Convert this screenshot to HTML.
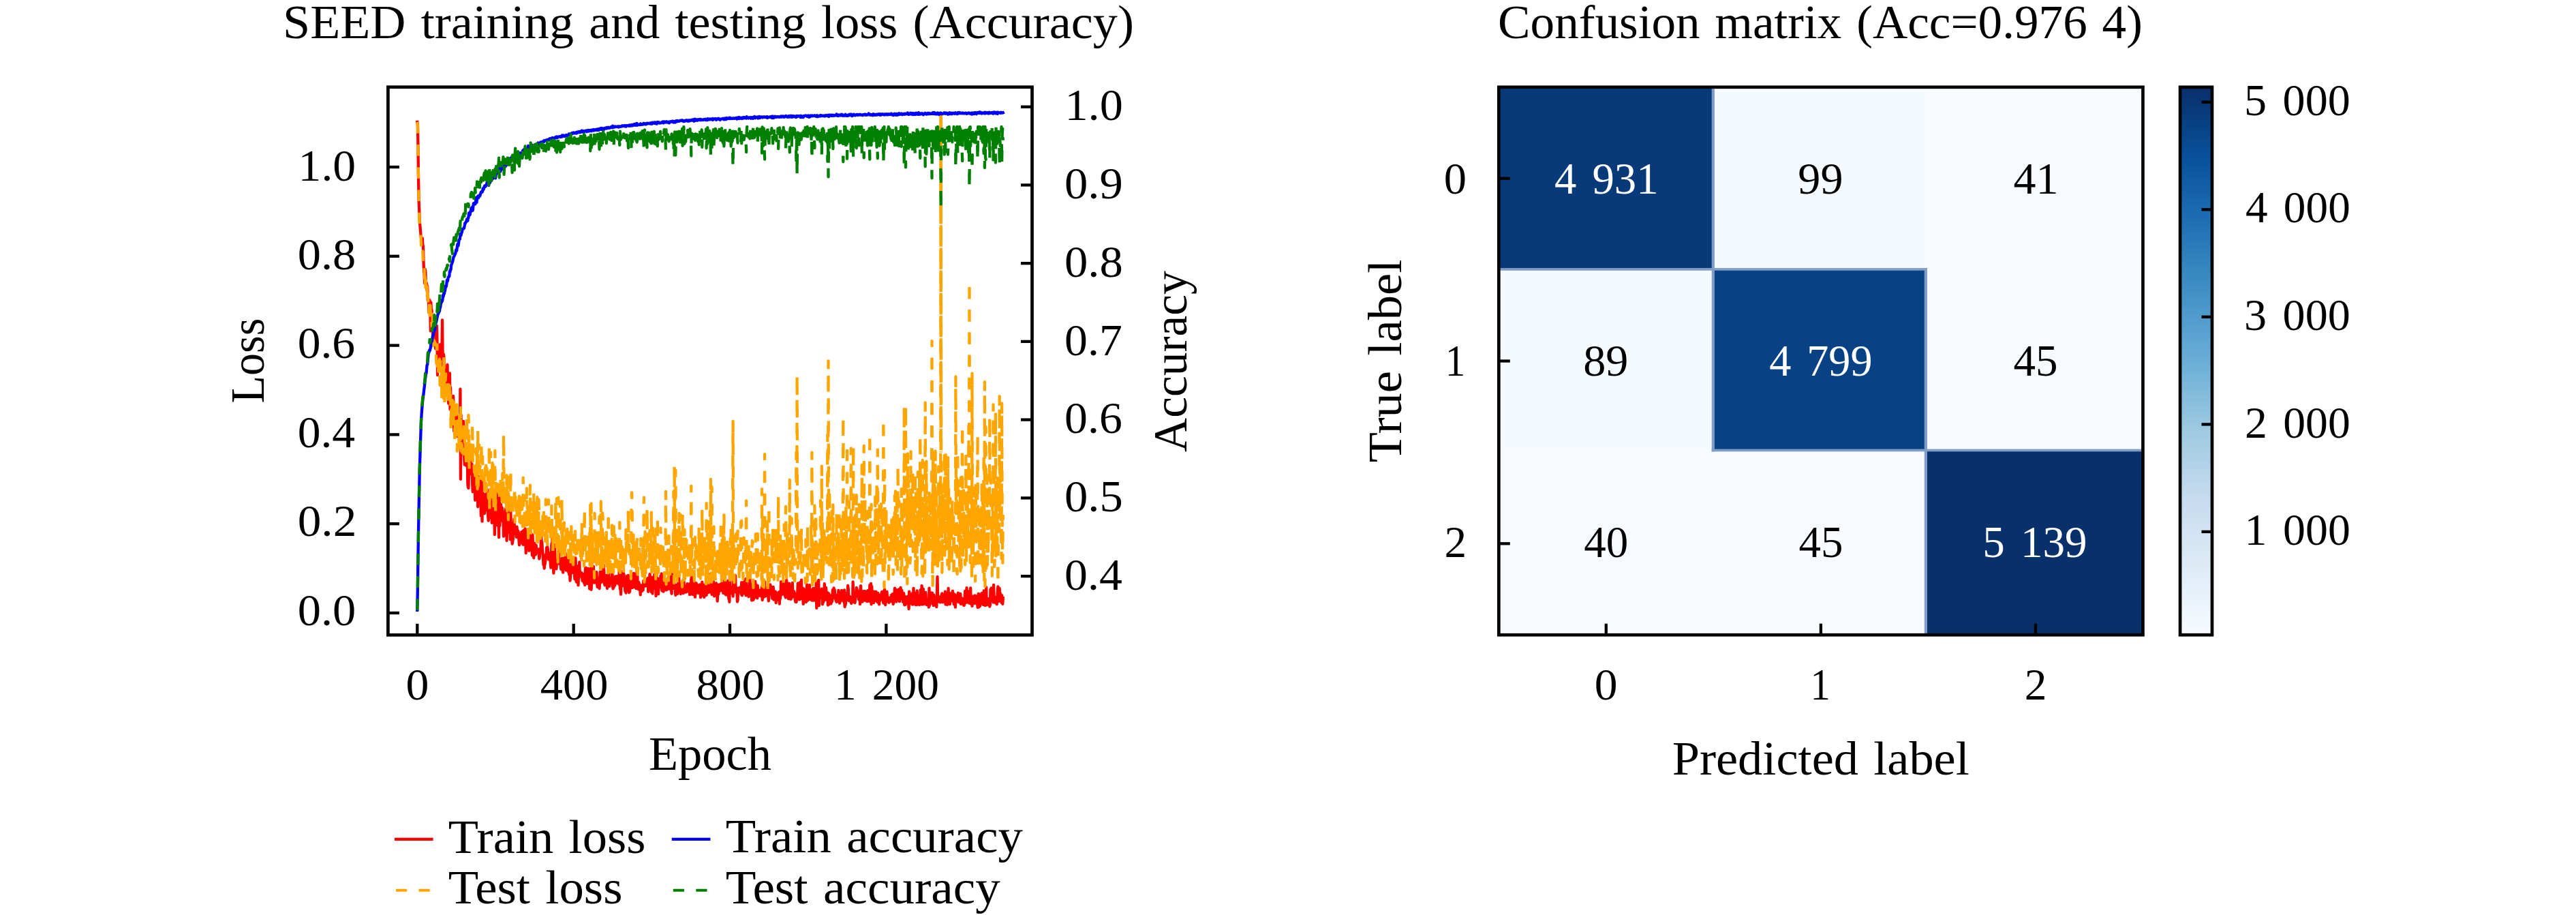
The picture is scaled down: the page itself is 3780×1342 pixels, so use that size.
<!DOCTYPE html>
<html lang="en"><head><meta charset="utf-8"><title>SEED training and testing loss / Confusion matrix</title>
<style>html,body{margin:0;padding:0;background:#fff;overflow:hidden}svg{display:block}text{font-family:"Liberation Serif","DejaVu Serif",serif;white-space:pre}</style></head><body>
<svg width="3780" height="1342" viewBox="0 0 3780 1342">
<rect width="3780" height="1342" fill="#fff"/>
<defs><linearGradient id="blues" x1="0" y1="0" x2="0" y2="1"><stop offset="0.0000" stop-color="#08306b"/><stop offset="0.0156" stop-color="#083370"/><stop offset="0.0312" stop-color="#083776"/><stop offset="0.0469" stop-color="#083b7c"/><stop offset="0.0625" stop-color="#084082"/><stop offset="0.0781" stop-color="#084488"/><stop offset="0.0938" stop-color="#08488e"/><stop offset="0.1094" stop-color="#084c95"/><stop offset="0.1250" stop-color="#08509b"/><stop offset="0.1406" stop-color="#0a549e"/><stop offset="0.1562" stop-color="#0e58a2"/><stop offset="0.1719" stop-color="#115ca5"/><stop offset="0.1875" stop-color="#1460a8"/><stop offset="0.2031" stop-color="#1764ab"/><stop offset="0.2188" stop-color="#1a68ae"/><stop offset="0.2344" stop-color="#1d6cb1"/><stop offset="0.2500" stop-color="#2070b4"/><stop offset="0.2656" stop-color="#2474b7"/><stop offset="0.2812" stop-color="#2979b9"/><stop offset="0.2969" stop-color="#2d7dbb"/><stop offset="0.3125" stop-color="#3181bd"/><stop offset="0.3281" stop-color="#3585bf"/><stop offset="0.3438" stop-color="#3989c1"/><stop offset="0.3594" stop-color="#3d8dc4"/><stop offset="0.3750" stop-color="#4191c6"/><stop offset="0.3906" stop-color="#4695c8"/><stop offset="0.4062" stop-color="#4b98ca"/><stop offset="0.4219" stop-color="#519ccc"/><stop offset="0.4375" stop-color="#56a0ce"/><stop offset="0.4531" stop-color="#5ba3d0"/><stop offset="0.4688" stop-color="#60a7d2"/><stop offset="0.4844" stop-color="#65aad4"/><stop offset="0.5000" stop-color="#6aaed6"/><stop offset="0.5156" stop-color="#71b1d7"/><stop offset="0.5312" stop-color="#77b5d9"/><stop offset="0.5469" stop-color="#7db8da"/><stop offset="0.5625" stop-color="#84bcdb"/><stop offset="0.5781" stop-color="#8abfdd"/><stop offset="0.5938" stop-color="#91c3de"/><stop offset="0.6094" stop-color="#97c6df"/><stop offset="0.6250" stop-color="#9dcae1"/><stop offset="0.6406" stop-color="#a3cce3"/><stop offset="0.6562" stop-color="#a8cee4"/><stop offset="0.6719" stop-color="#add0e6"/><stop offset="0.6875" stop-color="#b2d2e8"/><stop offset="0.7031" stop-color="#b7d4ea"/><stop offset="0.7188" stop-color="#bcd7eb"/><stop offset="0.7344" stop-color="#c1d9ed"/><stop offset="0.7500" stop-color="#c6dbef"/><stop offset="0.7656" stop-color="#c9ddf0"/><stop offset="0.7812" stop-color="#ccdff1"/><stop offset="0.7969" stop-color="#cfe1f2"/><stop offset="0.8125" stop-color="#d2e3f3"/><stop offset="0.8281" stop-color="#d5e5f4"/><stop offset="0.8438" stop-color="#d8e7f5"/><stop offset="0.8594" stop-color="#dbe9f6"/><stop offset="0.8750" stop-color="#deebf7"/><stop offset="0.8906" stop-color="#e1edf8"/><stop offset="0.9062" stop-color="#e4eff9"/><stop offset="0.9219" stop-color="#e7f1fa"/><stop offset="0.9375" stop-color="#eaf3fb"/><stop offset="0.9531" stop-color="#eef5fc"/><stop offset="0.9688" stop-color="#f1f7fd"/><stop offset="0.9844" stop-color="#f4f9fe"/><stop offset="1.0000" stop-color="#f7fbff"/></linearGradient>
<clipPath id="clipL"><rect x="569.4" y="127.7" width="945.1" height="803.6"/></clipPath></defs>
<g clip-path="url(#clipL)" fill="none" stroke-width="4.3" stroke-linejoin="round">
<path d="M612.3,178.9 612.9,182.3 613.4,211.6 614.0,258.4 614.6,294.1 615.2,307.3 615.7,323.3 616.3,330.3 616.9,337.4 617.5,344.1 618.0,348.6 618.6,356.1 619.2,359.0 619.8,349.4 620.3,359.9 620.9,360.0 621.5,383.4 622.0,397.2 622.6,401.1 623.2,415.7 623.8,394.8 624.3,397.9 624.9,412.9 625.5,414.0 626.1,417.5 626.6,426.0 627.2,419.3 627.8,440.8 628.4,438.7 628.9,438.9 629.5,458.6 630.1,454.9 630.6,440.3 631.2,445.2 631.8,485.4 632.4,443.6 632.9,457.7 633.5,454.5 634.1,474.4 634.7,466.5 635.2,500.1 635.8,489.3 636.4,504.4 637.0,500.3 637.5,474.6 638.1,469.4 638.7,501.7 639.2,511.4 639.8,493.6 640.4,502.2 641.0,478.0 641.5,504.2 642.1,550.2 642.7,519.4 643.3,527.4 643.8,536.1 644.4,524.6 645.0,528.0 645.6,536.0 646.1,505.1 646.7,527.9 647.3,529.1 647.9,506.6 648.4,517.5 649.0,469.3 649.6,519.7 650.1,548.8 650.7,519.4 651.3,522.3 651.9,541.3 652.4,558.9 653.0,549.0 653.6,549.6 654.2,578.5 654.7,564.8 655.3,572.1 655.9,538.8 656.5,534.9 657.0,579.0 657.6,578.5 658.2,591.6 658.7,570.8 659.3,563.0 659.9,547.3 660.5,600.5 661.0,568.1 661.6,589.9 662.2,600.0 662.8,597.4 663.3,605.5 663.9,589.4 664.5,600.0 665.1,581.0 665.6,612.1 666.2,632.4 666.8,623.1 667.3,606.1 667.9,634.2 668.5,627.0 669.1,609.8 669.6,639.8 670.2,609.0 670.8,620.2 671.4,636.3 671.9,631.3 672.5,639.6 673.1,640.3 673.7,641.5 674.2,638.6 674.8,642.3 675.4,570.7 675.9,702.8 676.5,608.3 677.1,664.2 677.7,653.0 678.2,630.1 678.8,635.9 679.4,666.8 680.0,617.8 680.5,626.5 681.1,666.6 681.7,681.5 682.3,653.6 682.8,670.2 683.4,673.6 684.0,682.8 684.5,681.5 685.1,671.4 685.7,658.8 686.3,708.0 686.8,714.2 687.4,715.9 688.0,695.5 688.6,671.1 689.1,684.2 689.7,663.4 690.3,671.6 690.9,695.3 691.4,695.2 692.0,687.9 692.6,681.0 693.1,706.7 693.7,721.3 694.3,698.3 694.9,702.7 695.4,705.9 696.0,719.9 696.6,694.4 697.2,733.7 697.7,716.8 698.3,685.1 698.9,729.1 699.5,705.6 700.0,706.4 700.6,708.3 701.2,743.3 701.8,699.5 702.3,718.2 702.9,712.6 703.5,717.7 704.0,723.9 704.6,701.9 705.2,698.8 705.8,756.6 706.3,741.8 706.9,733.8 707.5,764.7 708.1,703.9 708.6,746.1 709.2,724.1 709.8,732.0 710.4,740.7 710.9,753.2 711.5,744.4 712.1,738.0 712.6,725.0 713.2,744.4 713.8,748.0 714.4,746.5 714.9,718.2 715.5,738.6 716.1,754.7 716.7,763.6 717.2,752.2 717.8,759.9 718.4,753.6 719.0,722.4 719.5,735.7 720.1,745.1 720.7,742.4 721.2,718.3 721.8,766.9 722.4,743.4 723.0,755.2 723.5,750.2 724.1,752.0 724.7,758.3 725.3,744.5 725.8,784.2 726.4,750.2 727.0,743.6 727.6,769.4 728.1,770.1 728.7,723.2 729.3,770.0 729.8,763.6 730.4,769.3 731.0,767.7 731.6,769.0 732.1,788.2 732.7,719.2 733.3,771.1 733.9,755.4 734.4,763.8 735.0,739.7 735.6,751.6 736.2,744.6 736.7,744.5 737.3,750.6 737.9,765.0 738.4,750.5 739.0,786.6 739.6,751.9 740.2,755.5 740.7,762.7 741.3,785.0 741.9,746.4 742.5,777.7 743.0,759.2 743.6,793.0 744.2,772.9 744.8,779.0 745.3,781.0 745.9,780.1 746.5,743.1 747.0,773.2 747.6,767.6 748.2,738.8 748.8,791.3 749.3,749.6 749.9,779.4 750.5,782.9 751.1,780.7 751.6,797.7 752.2,794.8 752.8,790.5 753.4,784.1 753.9,766.5 754.5,761.1 755.1,783.1 755.6,773.3 756.2,772.7 756.8,782.8 757.4,776.9 757.9,787.8 758.5,772.7 759.1,784.5 759.7,781.6 760.2,778.7 760.8,780.9 761.4,791.7 762.0,799.3 762.5,785.3 763.1,791.3 763.7,791.3 764.3,787.0 764.8,794.2 765.4,779.9 766.0,781.0 766.5,797.5 767.1,782.4 767.7,798.9 768.3,778.0 768.8,780.0 769.4,789.8 770.0,777.0 770.6,775.5 771.1,784.4 771.7,811.2 772.3,789.9 772.9,789.3 773.4,781.0 774.0,803.6 774.6,783.4 775.1,788.9 775.7,788.6 776.3,807.9 776.9,804.4 777.4,779.6 778.0,784.4 778.6,797.4 779.2,781.7 779.7,793.7 780.3,802.1 780.9,814.5 781.5,784.6 782.0,800.6 782.6,796.3 783.2,818.3 783.7,805.9 784.3,796.8 784.9,803.8 785.5,809.1 786.0,813.3 786.6,799.7 787.2,806.7 787.8,806.8 788.3,806.8 788.9,810.7 789.5,808.0 790.1,811.2 790.6,805.3 791.2,819.5 791.8,817.2 792.3,806.6 792.9,809.0 793.5,805.8 794.1,782.2 794.6,799.0 795.2,794.6 795.8,804.2 796.4,811.1 796.9,817.9 797.5,828.3 798.1,824.5 798.7,833.5 799.2,822.5 799.8,827.3 800.4,821.9 800.9,813.5 801.5,817.5 802.1,803.1 802.7,803.3 803.2,802.2 803.8,804.7 804.4,812.3 805.0,820.6 805.5,810.8 806.1,819.0 806.7,818.9 807.3,812.5 807.8,827.6 808.4,832.7 809.0,814.6 809.5,797.5 810.1,805.7 810.7,774.5 811.3,832.2 811.8,825.9 812.4,840.7 813.0,828.4 813.6,798.8 814.1,802.5 814.7,830.7 815.3,824.9 815.9,829.6 816.4,834.4 817.0,825.2 817.6,826.3 818.2,822.7 818.7,821.0 819.3,816.3 819.9,808.9 820.4,825.7 821.0,827.1 821.6,825.5 822.2,820.9 822.7,827.4 823.3,834.9 823.9,831.2 824.5,818.8 825.0,836.1 825.6,818.7 826.2,839.7 826.8,821.6 827.3,822.2 827.9,830.8 828.5,829.6 829.0,831.6 829.6,811.4 830.2,833.9 830.8,836.6 831.3,826.8 831.9,819.1 832.5,828.0 833.1,833.2 833.6,821.2 834.2,838.8 834.8,839.3 835.4,843.3 835.9,820.7 836.5,851.6 837.1,844.6 837.6,832.1 838.2,830.8 838.8,817.0 839.4,831.3 839.9,840.0 840.5,821.9 841.1,825.6 841.7,825.0 842.2,826.4 842.8,832.5 843.4,849.4 844.0,846.6 844.5,818.4 845.1,838.7 845.7,853.5 846.2,839.2 846.8,830.1 847.4,836.2 848.0,840.4 848.5,858.4 849.1,840.4 849.7,842.3 850.3,824.5 850.8,841.7 851.4,842.3 852.0,845.4 852.6,843.2 853.1,839.8 853.7,846.5 854.3,849.4 854.8,852.2 855.4,842.0 856.0,846.0 856.6,845.9 857.1,855.0 857.7,849.9 858.3,858.0 858.9,834.7 859.4,832.6 860.0,840.5 860.6,845.5 861.2,840.2 861.7,855.9 862.3,854.9 862.9,833.7 863.4,853.0 864.0,846.0 864.6,850.6 865.2,863.7 865.7,850.9 866.3,838.1 866.9,833.4 867.5,864.8 868.0,857.9 868.6,850.9 869.2,837.1 869.8,835.0 870.3,831.5 870.9,830.7 871.5,850.4 872.1,854.6 872.6,838.5 873.2,849.5 873.8,847.5 874.3,850.4 874.9,850.8 875.5,839.2 876.1,855.5 876.6,860.9 877.2,853.5 877.8,847.6 878.4,850.9 878.9,849.8 879.5,863.2 880.1,855.3 880.7,838.8 881.2,850.5 881.8,854.2 882.4,838.6 882.9,853.6 883.5,842.5 884.1,847.8 884.7,846.1 885.2,840.1 885.8,828.5 886.4,838.0 887.0,856.3 887.5,858.3 888.1,852.8 888.7,851.8 889.3,844.1 889.8,850.6 890.4,849.1 891.0,863.0 891.5,851.4 892.1,846.2 892.7,835.1 893.3,843.9 893.8,850.6 894.4,859.9 895.0,851.7 895.6,851.7 896.1,852.8 896.7,850.5 897.3,847.3 897.9,847.9 898.4,831.0 899.0,859.1 899.6,863.4 900.1,848.8 900.7,861.2 901.3,854.1 901.9,853.3 902.4,858.5 903.0,845.5 903.6,847.0 904.2,851.8 904.7,847.5 905.3,845.1 905.9,855.4 906.5,847.9 907.0,852.3 907.6,853.5 908.2,856.9 908.7,837.4 909.3,850.8 909.9,863.8 910.5,849.4 911.0,871.8 911.6,851.7 912.2,847.1 912.8,841.0 913.3,852.5 913.9,859.3 914.5,836.4 915.1,845.0 915.6,842.6 916.2,856.4 916.8,849.0 917.3,867.0 917.9,850.6 918.5,869.5 919.1,862.1 919.6,865.3 920.2,844.6 920.8,846.8 921.4,859.4 921.9,844.0 922.5,854.9 923.1,869.2 923.7,858.3 924.2,867.6 924.8,855.2 925.4,852.6 925.9,860.9 926.5,848.5 927.1,846.3 927.7,862.2 928.2,851.0 928.8,856.8 929.4,858.2 930.0,840.8 930.5,861.2 931.1,858.8 931.7,856.9 932.3,851.4 932.8,849.5 933.4,863.1 934.0,844.1 934.6,839.9 935.1,838.3 935.7,855.4 936.3,860.4 936.8,864.3 937.4,853.9 938.0,857.6 938.6,857.5 939.1,861.4 939.7,872.4 940.3,859.3 940.9,858.5 941.4,859.9 942.0,867.1 942.6,859.4 943.2,858.6 943.7,865.3 944.3,851.9 944.9,858.0 945.4,856.7 946.0,854.3 946.6,859.6 947.2,858.5 947.7,853.2 948.3,851.1 948.9,850.0 949.5,859.4 950.0,851.2 950.6,847.8 951.2,867.8 951.8,861.1 952.3,858.6 952.9,858.4 953.5,842.1 954.0,847.8 954.6,859.5 955.2,859.4 955.8,868.2 956.3,865.4 956.9,846.6 957.5,870.5 958.1,853.2 958.6,863.7 959.2,861.1 959.8,859.7 960.4,842.4 960.9,856.1 961.5,854.6 962.1,850.0 962.6,874.2 963.2,842.2 963.8,870.6 964.4,864.2 964.9,853.2 965.5,867.7 966.1,871.2 966.7,848.9 967.2,861.7 967.8,851.1 968.4,855.3 969.0,861.0 969.5,844.3 970.1,861.5 970.7,841.4 971.2,865.8 971.8,866.6 972.4,864.5 973.0,857.9 973.5,867.6 974.1,864.8 974.7,847.0 975.3,858.5 975.8,849.6 976.4,856.9 977.0,864.2 977.6,865.4 978.1,858.7 978.7,859.8 979.3,863.9 979.8,864.2 980.4,847.3 981.0,851.0 981.6,857.9 982.1,862.9 982.7,863.5 983.3,842.4 983.9,864.7 984.4,839.7 985.0,865.2 985.6,870.7 986.2,842.5 986.7,861.8 987.3,847.1 987.9,857.1 988.5,862.8 989.0,852.6 989.6,863.2 990.2,857.4 990.7,862.3 991.3,872.9 991.9,857.9 992.5,865.0 993.0,862.5 993.6,857.9 994.2,870.9 994.8,856.8 995.3,856.5 995.9,844.2 996.5,854.4 997.1,858.8 997.6,866.2 998.2,862.2 998.8,871.2 999.3,858.4 999.9,863.5 1000.5,864.6 1001.1,862.2 1001.6,858.2 1002.2,860.0 1002.8,870.0 1003.4,850.4 1003.9,862.3 1004.5,859.6 1005.1,862.6 1005.7,868.7 1006.2,860.4 1006.8,865.3 1007.4,868.2 1007.9,861.8 1008.5,856.1 1009.1,857.5 1009.7,861.3 1010.2,866.9 1010.8,865.2 1011.4,864.0 1012.0,872.2 1012.5,855.9 1013.1,862.5 1013.7,871.4 1014.3,849.8 1014.8,845.8 1015.4,871.6 1016.0,864.6 1016.5,868.8 1017.1,856.6 1017.7,872.2 1018.3,859.3 1018.8,860.3 1019.4,853.7 1020.0,875.7 1020.6,868.6 1021.1,865.2 1021.7,855.3 1022.3,863.2 1022.9,857.3 1023.4,860.0 1024.0,869.7 1024.6,864.9 1025.1,866.6 1025.7,866.2 1026.3,870.0 1026.9,857.5 1027.4,861.7 1028.0,876.2 1028.6,857.8 1029.2,868.0 1029.7,873.7 1030.3,853.6 1030.9,864.7 1031.5,861.5 1032.0,865.5 1032.6,865.0 1033.2,875.9 1033.7,858.0 1034.3,869.4 1034.9,864.8 1035.5,865.4 1036.0,870.9 1036.6,872.7 1037.2,866.0 1037.8,853.5 1038.3,869.2 1038.9,868.9 1039.5,864.5 1040.1,868.8 1040.6,853.4 1041.2,861.2 1041.8,842.4 1042.3,863.5 1042.9,845.1 1043.5,869.0 1044.1,863.4 1044.6,871.9 1045.2,867.8 1045.8,867.4 1046.4,860.0 1046.9,853.1 1047.5,867.2 1048.1,874.4 1048.7,865.6 1049.2,866.7 1049.8,868.6 1050.4,857.8 1051.0,855.3 1051.5,870.0 1052.1,870.1 1052.7,881.6 1053.2,869.6 1053.8,858.1 1054.4,871.4 1055.0,857.5 1055.5,859.6 1056.1,860.2 1056.7,860.0 1057.3,866.4 1057.8,856.5 1058.4,856.1 1059.0,862.7 1059.6,866.3 1060.1,853.9 1060.7,852.1 1061.3,869.9 1061.8,858.3 1062.4,865.5 1063.0,844.4 1063.6,868.2 1064.1,870.0 1064.7,871.8 1065.3,857.7 1065.9,872.7 1066.4,860.3 1067.0,869.5 1067.6,853.9 1068.2,851.8 1068.7,855.8 1069.3,878.3 1069.9,875.3 1070.4,882.8 1071.0,842.1 1071.6,870.3 1072.2,869.2 1072.7,866.2 1073.3,861.1 1073.9,868.8 1074.5,866.1 1075.0,866.9 1075.6,874.7 1076.2,850.0 1076.8,850.8 1077.3,866.6 1077.9,867.9 1078.5,849.5 1079.0,844.2 1079.6,866.5 1080.2,861.4 1080.8,869.6 1081.3,863.9 1081.9,882.5 1082.5,880.6 1083.1,862.9 1083.6,868.5 1084.2,863.5 1084.8,866.4 1085.4,861.6 1085.9,864.8 1086.5,868.5 1087.1,863.3 1087.6,871.4 1088.2,854.1 1088.8,873.3 1089.4,869.9 1089.9,858.9 1090.5,869.8 1091.1,858.4 1091.7,853.7 1092.2,860.1 1092.8,870.3 1093.4,849.6 1094.0,863.2 1094.5,873.4 1095.1,848.6 1095.7,865.8 1096.2,861.7 1096.8,859.1 1097.4,870.9 1098.0,859.2 1098.5,875.2 1099.1,873.7 1099.7,870.3 1100.3,847.2 1100.8,862.1 1101.4,856.8 1102.0,870.6 1102.6,862.7 1103.1,880.5 1103.7,869.7 1104.3,863.7 1104.9,871.5 1105.4,879.8 1106.0,877.8 1106.6,861.9 1107.1,855.3 1107.7,870.6 1108.3,853.0 1108.9,876.0 1109.4,862.3 1110.0,865.4 1110.6,858.3 1111.2,877.4 1111.7,858.9 1112.3,867.3 1112.9,873.8 1113.5,871.5 1114.0,870.1 1114.6,865.9 1115.2,873.9 1115.7,874.0 1116.3,868.0 1116.9,869.2 1117.5,864.2 1118.0,860.4 1118.6,880.0 1119.2,869.9 1119.8,867.0 1120.3,868.8 1120.9,875.7 1121.5,862.6 1122.1,853.2 1122.6,870.6 1123.2,874.3 1123.8,862.3 1124.3,869.5 1124.9,868.6 1125.5,867.6 1126.1,872.5 1126.6,870.0 1127.2,874.2 1127.8,881.3 1128.4,860.2 1128.9,867.3 1129.5,870.6 1130.1,857.4 1130.7,871.2 1131.2,859.6 1131.8,862.5 1132.4,872.1 1132.9,877.6 1133.5,865.9 1134.1,868.3 1134.7,860.9 1135.2,879.5 1135.8,871.4 1136.4,868.4 1137.0,867.4 1137.5,869.6 1138.1,867.9 1138.7,884.1 1139.3,872.7 1139.8,874.8 1140.4,879.8 1141.0,870.0 1141.5,873.3 1142.1,877.7 1142.7,879.1 1143.3,868.2 1143.8,885.7 1144.4,871.9 1145.0,877.8 1145.6,870.2 1146.1,853.2 1146.7,861.8 1147.3,871.9 1147.9,857.3 1148.4,853.7 1149.0,862.2 1149.6,854.0 1150.1,869.7 1150.7,865.7 1151.3,872.4 1151.9,874.1 1152.4,871.7 1153.0,876.4 1153.6,872.6 1154.2,850.9 1154.7,865.2 1155.3,873.3 1155.9,855.7 1156.5,858.4 1157.0,878.3 1157.6,876.3 1158.2,855.8 1158.8,871.5 1159.3,870.7 1159.9,875.5 1160.5,878.8 1161.0,861.6 1161.6,877.2 1162.2,867.5 1162.8,854.9 1163.3,867.6 1163.9,874.1 1164.5,866.8 1165.1,867.5 1165.6,875.6 1166.2,870.5 1166.8,879.9 1167.4,882.9 1167.9,876.3 1168.5,883.1 1169.1,876.9 1169.6,874.1 1170.2,871.7 1170.8,855.6 1171.4,878.7 1171.9,876.2 1172.5,876.3 1173.1,879.4 1173.7,854.3 1174.2,878.2 1174.8,875.3 1175.4,875.0 1176.0,850.6 1176.5,875.8 1177.1,878.4 1177.7,862.3 1178.2,877.9 1178.8,885.9 1179.4,863.4 1180.0,865.4 1180.5,882.3 1181.1,881.3 1181.7,874.7 1182.3,879.9 1182.8,883.0 1183.4,881.3 1184.0,857.5 1184.6,864.5 1185.1,880.7 1185.7,875.8 1186.3,874.1 1186.8,876.9 1187.4,875.3 1188.0,858.2 1188.6,878.6 1189.1,879.4 1189.7,875.5 1190.3,879.0 1190.9,877.8 1191.4,877.8 1192.0,880.9 1192.6,863.9 1193.2,879.1 1193.7,862.9 1194.3,880.2 1194.9,880.6 1195.4,873.4 1196.0,877.1 1196.6,867.7 1197.2,869.4 1197.7,853.3 1198.3,891.9 1198.9,881.5 1199.5,876.1 1200.0,877.0 1200.6,876.2 1201.2,850.8 1201.8,888.3 1202.3,869.6 1202.9,877.3 1203.5,876.0 1204.0,865.6 1204.6,876.4 1205.2,868.6 1205.8,863.6 1206.3,864.6 1206.9,886.3 1207.5,879.7 1208.1,883.3 1208.6,880.5 1209.2,877.3 1209.8,856.1 1210.4,879.8 1210.9,878.0 1211.5,877.3 1212.1,861.9 1212.6,879.5 1213.2,872.3 1213.8,868.7 1214.4,871.2 1214.9,887.5 1215.5,883.7 1216.1,870.3 1216.7,886.3 1217.2,878.0 1217.8,885.0 1218.4,873.4 1219.0,877.2 1219.5,885.3 1220.1,878.3 1220.7,882.7 1221.3,880.1 1221.8,865.2 1222.4,874.9 1223.0,874.3 1223.5,862.5 1224.1,876.6 1224.7,864.8 1225.3,873.8 1225.8,875.1 1226.4,879.2 1227.0,881.7 1227.6,882.8 1228.1,882.3 1228.7,872.7 1229.3,873.8 1229.9,881.8 1230.4,865.8 1231.0,880.8 1231.6,879.5 1232.1,884.7 1232.7,881.9 1233.3,869.4 1233.9,873.7 1234.4,880.8 1235.0,865.8 1235.6,877.9 1236.2,877.1 1236.7,867.6 1237.3,873.5 1237.9,879.3 1238.5,883.1 1239.0,865.4 1239.6,890.0 1240.2,880.9 1240.7,886.8 1241.3,880.8 1241.9,869.9 1242.5,879.5 1243.0,880.0 1243.6,878.0 1244.2,858.9 1244.8,864.7 1245.3,876.1 1245.9,881.2 1246.5,879.9 1247.1,875.0 1247.6,879.1 1248.2,878.5 1248.8,883.3 1249.3,885.0 1249.9,883.6 1250.5,876.1 1251.1,882.7 1251.6,853.4 1252.2,872.9 1252.8,871.9 1253.4,868.5 1253.9,883.3 1254.5,884.0 1255.1,879.1 1255.7,872.4 1256.2,872.7 1256.8,861.9 1257.4,864.3 1257.9,867.6 1258.5,866.7 1259.1,875.2 1259.7,869.3 1260.2,879.1 1260.8,879.8 1261.4,868.3 1262.0,886.1 1262.5,863.7 1263.1,859.1 1263.7,880.1 1264.3,869.9 1264.8,875.6 1265.4,882.5 1266.0,873.6 1266.5,872.0 1267.1,867.2 1267.7,879.2 1268.3,875.8 1268.8,880.6 1269.4,867.2 1270.0,878.0 1270.6,868.6 1271.1,881.0 1271.7,876.0 1272.3,882.1 1272.9,881.4 1273.4,866.2 1274.0,878.6 1274.6,878.1 1275.2,870.0 1275.7,881.8 1276.3,858.1 1276.9,881.6 1277.4,879.7 1278.0,855.8 1278.6,886.4 1279.2,859.9 1279.7,873.6 1280.3,872.3 1280.9,883.1 1281.5,875.8 1282.0,884.2 1282.6,867.6 1283.2,879.2 1283.8,881.2 1284.3,880.4 1284.9,878.8 1285.5,868.0 1286.0,874.1 1286.6,881.9 1287.2,882.5 1287.8,883.3 1288.3,870.0 1288.9,873.2 1289.5,883.7 1290.1,886.3 1290.6,878.6 1291.2,881.2 1291.8,872.9 1292.4,878.9 1292.9,874.5 1293.5,870.2 1294.1,867.9 1294.6,879.5 1295.2,871.2 1295.8,881.3 1296.4,884.5 1296.9,876.2 1297.5,866.5 1298.1,864.3 1298.7,878.9 1299.2,887.1 1299.8,875.3 1300.4,879.7 1301.0,872.4 1301.5,868.0 1302.1,880.9 1302.7,882.2 1303.2,880.7 1303.8,882.1 1304.4,883.7 1305.0,876.7 1305.5,882.5 1306.1,880.3 1306.7,880.5 1307.3,881.9 1307.8,873.0 1308.4,881.2 1309.0,879.4 1309.6,871.2 1310.1,879.8 1310.7,886.1 1311.3,881.4 1311.8,881.4 1312.4,873.0 1313.0,862.7 1313.6,877.3 1314.1,879.8 1314.7,864.8 1315.3,882.6 1315.9,876.4 1316.4,874.6 1317.0,879.5 1317.6,880.2 1318.2,877.7 1318.7,864.4 1319.3,873.8 1319.9,882.2 1320.4,876.6 1321.0,869.9 1321.6,861.8 1322.2,871.5 1322.7,877.6 1323.3,865.8 1323.9,870.8 1324.5,878.2 1325.0,882.7 1325.6,878.8 1326.2,870.2 1326.8,884.6 1327.3,887.2 1327.9,874.6 1328.5,886.9 1329.0,885.8 1329.6,880.6 1330.2,880.8 1330.8,879.3 1331.3,878.3 1331.9,874.7 1332.5,880.2 1333.1,883.7 1333.6,893.2 1334.2,867.7 1334.8,872.3 1335.4,873.9 1335.9,880.0 1336.5,884.1 1337.1,875.5 1337.7,880.3 1338.2,886.4 1338.8,870.1 1339.4,886.7 1339.9,882.1 1340.5,862.8 1341.1,883.9 1341.7,878.7 1342.2,869.9 1342.8,880.1 1343.4,886.8 1344.0,882.5 1344.5,880.4 1345.1,887.2 1345.7,866.3 1346.3,877.5 1346.8,873.6 1347.4,878.1 1348.0,877.0 1348.5,882.0 1349.1,887.2 1349.7,874.1 1350.3,880.2 1350.8,865.1 1351.4,885.8 1352.0,879.3 1352.6,859.1 1353.1,886.7 1353.7,886.0 1354.3,878.8 1354.9,864.0 1355.4,886.1 1356.0,880.3 1356.6,881.4 1357.1,883.2 1357.7,881.8 1358.3,868.9 1358.9,879.9 1359.4,886.8 1360.0,883.6 1360.6,880.3 1361.2,887.2 1361.7,884.0 1362.3,882.6 1362.9,890.5 1363.5,862.7 1364.0,888.3 1364.6,880.5 1365.2,881.6 1365.7,883.7 1366.3,869.3 1366.9,880.6 1367.5,884.8 1368.0,869.7 1368.6,876.0 1369.2,885.7 1369.8,888.0 1370.3,872.7 1370.9,881.6 1371.5,887.7 1372.1,876.1 1372.6,887.6 1373.2,884.2 1373.8,884.8 1374.3,890.1 1374.9,874.7 1375.5,846.0 1376.1,875.2 1376.6,877.6 1377.2,882.3 1377.8,881.4 1378.4,878.9 1378.9,875.4 1379.5,883.4 1380.1,880.9 1380.7,882.1 1381.2,876.0 1381.8,872.0 1382.4,870.4 1382.9,883.1 1383.5,883.2 1384.1,874.4 1384.7,882.2 1385.2,882.0 1385.8,876.7 1386.4,877.5 1387.0,867.7 1387.5,886.5 1388.1,869.8 1388.7,883.1 1389.3,874.3 1389.8,886.9 1390.4,881.6 1391.0,883.8 1391.6,863.0 1392.1,885.3 1392.7,869.5 1393.3,884.6 1393.8,886.1 1394.4,878.0 1395.0,870.3 1395.6,881.3 1396.1,875.0 1396.7,878.7 1397.3,881.3 1397.9,866.9 1398.4,881.0 1399.0,872.2 1399.6,886.2 1400.2,881.9 1400.7,871.4 1401.3,883.1 1401.9,890.7 1402.4,873.3 1403.0,875.1 1403.6,882.3 1404.2,879.9 1404.7,882.5 1405.3,877.1 1405.9,869.6 1406.5,877.8 1407.0,881.5 1407.6,883.2 1408.2,881.8 1408.8,883.3 1409.3,871.0 1409.9,885.8 1410.5,883.7 1411.0,877.4 1411.6,877.6 1412.2,878.4 1412.8,883.0 1413.3,879.0 1413.9,887.5 1414.5,887.9 1415.1,886.9 1415.6,877.1 1416.2,866.8 1416.8,883.1 1417.4,883.6 1417.9,882.4 1418.5,862.2 1419.1,878.7 1419.6,879.9 1420.2,883.6 1420.8,875.8 1421.4,867.4 1421.9,878.9 1422.5,884.7 1423.1,867.2 1423.7,881.1 1424.2,862.4 1424.8,885.8 1425.4,881.8 1426.0,878.1 1426.5,888.9 1427.1,879.9 1427.7,874.6 1428.2,881.8 1428.8,876.4 1429.4,879.2 1430.0,885.0 1430.5,873.5 1431.1,884.6 1431.7,882.6 1432.3,884.6 1432.8,874.5 1433.4,883.4 1434.0,883.4 1434.6,890.8 1435.1,882.6 1435.7,870.9 1436.3,890.5 1436.8,877.5 1437.4,881.6 1438.0,889.0 1438.6,883.3 1439.1,871.5 1439.7,881.5 1440.3,877.7 1440.9,869.8 1441.4,882.9 1442.0,872.4 1442.6,886.9 1443.2,885.3 1443.7,866.3 1444.3,867.3 1444.9,871.6 1445.5,888.0 1446.0,882.5 1446.6,885.4 1447.2,861.4 1447.7,887.4 1448.3,887.1 1448.9,884.1 1449.5,877.9 1450.0,884.1 1450.6,882.9 1451.2,878.3 1451.8,881.0 1452.3,889.6 1452.9,887.0 1453.5,864.3 1454.1,880.8 1454.6,862.3 1455.2,866.1 1455.8,869.7 1456.3,880.6 1456.9,865.2 1457.5,883.5 1458.1,857.8 1458.6,875.0 1459.2,874.9 1459.8,883.2 1460.4,883.9 1460.9,882.6 1461.5,883.7 1462.1,885.2 1462.7,886.1 1463.2,878.8 1463.8,868.3 1464.4,860.3 1464.9,872.8 1465.5,881.9 1466.1,874.3 1466.7,862.8 1467.2,879.2 1467.8,870.1 1468.4,876.5 1469.0,879.2 1469.5,883.8 1470.1,873.1 1470.7,884.9 1471.3,885.6 1471.8,877.0" stroke="#ff0000" stroke-linecap="square"/>
<path d="M612.3,178.9 612.9,183.2 613.4,216.6 614.0,261.4 614.6,294.8 615.2,313.4 615.7,327.0 616.3,336.6 616.9,337.9 617.5,341.2 618.0,359.7 618.6,358.3 619.2,360.2 619.8,372.8 620.3,368.6 620.9,386.0 621.5,391.4 622.0,395.5 622.6,392.4 623.2,418.6 623.8,406.0 624.3,428.8 624.9,410.9 625.5,424.8 626.1,425.8 626.6,419.8 627.2,443.1 627.8,430.2 628.4,441.7 628.9,439.2 629.5,458.7 630.1,439.5 630.6,462.8 631.2,444.6 631.8,461.2 632.4,471.8 632.9,467.8 633.5,475.6 634.1,483.4 634.7,460.6 635.2,513.3 635.8,507.0 636.4,507.7 637.0,499.5 637.5,505.9 638.1,501.6 638.7,504.7 639.2,518.0 639.8,517.9 640.4,533.2 641.0,505.3 641.5,514.0 642.1,537.6 642.7,520.1 643.3,545.0 643.8,530.9 644.4,534.8 645.0,526.6 645.6,565.0 646.1,531.2 646.7,530.5 647.3,545.7 647.9,538.8 648.4,587.4 649.0,545.7 649.6,551.7 650.1,561.4 650.7,584.0 651.3,521.1 651.9,561.1 652.4,590.2 653.0,554.5 653.6,558.2 654.2,548.4 654.7,562.0 655.3,588.7 655.9,572.9 656.5,562.7 657.0,558.3 657.6,590.1 658.2,584.7 658.7,564.5 659.3,583.7 659.9,560.4 660.5,588.0 661.0,574.1 661.6,629.2 662.2,600.3 662.8,610.0 663.3,596.5 663.9,586.8 664.5,608.3 665.1,591.5 665.6,622.0 666.2,582.7 666.8,601.7 667.3,646.6 667.9,618.4 668.5,617.7 669.1,596.6 669.6,611.5 670.2,593.4 670.8,661.7 671.4,607.6 671.9,628.3 672.5,632.8 673.1,629.7 673.7,665.6 674.2,608.9 674.8,643.9 675.4,654.3 675.9,597.9 676.5,661.5 677.1,629.4 677.7,655.1 678.2,664.0 678.8,639.2 679.4,635.2 680.0,666.3 680.5,629.4 681.1,620.2 681.7,642.0 682.3,665.9 682.8,663.7 683.4,629.0 684.0,685.1 684.5,662.9 685.1,613.3 685.7,664.6 686.3,652.7 686.8,668.7 687.4,608.9 688.0,625.4 688.6,689.2 689.1,646.7 689.7,676.1 690.3,654.5 690.9,645.0 691.4,654.7 692.0,682.6 692.6,659.7 693.1,619.2 693.7,676.6 694.3,653.0 694.9,674.1 695.4,680.1 696.0,692.9 696.6,684.2 697.2,697.6 697.7,683.4 698.3,685.2 698.9,657.8 699.5,713.2 700.0,658.7 700.6,717.3 701.2,631.6 701.8,712.7 702.3,676.5 702.9,652.1 703.5,702.7 704.0,683.1 704.6,685.4 705.2,678.9 705.8,701.9 706.3,650.6 706.9,683.7 707.5,697.6 708.1,669.7 708.6,703.9 709.2,701.7 709.8,691.4 710.4,685.1 710.9,724.6 711.5,689.2 712.1,685.6 712.6,719.6 713.2,682.6 713.8,720.1 714.4,686.5 714.9,703.1 715.5,693.9 716.1,716.8 716.7,729.7 717.2,731.3 717.8,652.2 718.4,748.9 719.0,708.6 719.5,727.0 720.1,663.5 720.7,705.0 721.2,697.5 721.8,733.5 722.4,678.8 723.0,729.9 723.5,678.9 724.1,721.6 724.7,747.6 725.3,694.0 725.8,726.5 726.4,661.0 727.0,752.1 727.6,708.4 728.1,717.1 728.7,727.5 729.3,721.9 729.8,711.1 730.4,709.9 731.0,727.5 731.6,719.2 732.1,716.1 732.7,735.3 733.3,715.9 733.9,717.4 734.4,701.2 735.0,717.0 735.6,717.9 736.2,709.0 736.7,742.6 737.3,694.1 737.9,738.5 738.4,723.4 739.0,637.4 739.6,708.9 740.2,741.3 740.7,709.3 741.3,736.9 741.9,732.8 742.5,715.6 743.0,745.2 743.6,697.2 744.2,749.6 744.8,731.7 745.3,702.0 745.9,762.4 746.5,699.7 747.0,736.7 747.6,730.1 748.2,728.8 748.8,749.0 749.3,691.2 749.9,736.5 750.5,725.8 751.1,724.2 751.6,723.0 752.2,736.9 752.8,753.3 753.4,750.3 753.9,749.4 754.5,733.6 755.1,714.0 755.6,765.8 756.2,733.6 756.8,724.3 757.4,749.3 757.9,741.3 758.5,755.9 759.1,728.3 759.7,752.1 760.2,748.8 760.8,743.3 761.4,732.1 762.0,727.7 762.5,769.0 763.1,724.6 763.7,766.0 764.3,767.1 764.8,742.0 765.4,739.1 766.0,747.4 766.5,739.2 767.1,781.3 767.7,700.6 768.3,744.4 768.8,743.0 769.4,778.9 770.0,727.0 770.6,761.8 771.1,754.7 771.7,746.5 772.3,776.9 772.9,716.1 773.4,742.3 774.0,746.3 774.6,733.4 775.1,789.2 775.7,745.4 776.3,757.9 776.9,772.8 777.4,728.9 778.0,711.6 778.6,790.0 779.2,736.9 779.7,760.2 780.3,755.4 780.9,757.3 781.5,746.7 782.0,774.3 782.6,761.3 783.2,723.6 783.7,772.4 784.3,760.8 784.9,788.4 785.5,737.7 786.0,754.8 786.6,762.5 787.2,735.2 787.8,802.9 788.3,729.1 788.9,795.3 789.5,770.2 790.1,789.1 790.6,732.7 791.2,774.7 791.8,773.3 792.3,763.3 792.9,799.6 793.5,762.6 794.1,760.4 794.6,780.5 795.2,766.3 795.8,794.2 796.4,754.8 796.9,777.5 797.5,765.5 798.1,744.6 798.7,782.7 799.2,783.3 799.8,761.8 800.4,793.9 800.9,732.4 801.5,786.5 802.1,775.0 802.7,767.1 803.2,798.5 803.8,766.9 804.4,780.5 805.0,733.1 805.5,769.4 806.1,756.5 806.7,790.9 807.3,776.6 807.8,761.4 808.4,797.6 809.0,789.9 809.5,741.9 810.1,784.5 810.7,776.7 811.3,809.9 811.8,776.0 812.4,786.8 813.0,790.7 813.6,771.6 814.1,800.1 814.7,795.9 815.3,733.1 815.9,790.9 816.4,804.0 817.0,731.1 817.6,791.7 818.2,783.8 818.7,824.5 819.3,729.7 819.9,794.5 820.4,764.8 821.0,764.9 821.6,817.5 822.2,736.1 822.7,787.7 823.3,792.3 823.9,822.1 824.5,731.8 825.0,798.0 825.6,780.5 826.2,812.0 826.8,767.8 827.3,784.6 827.9,766.3 828.5,815.1 829.0,817.5 829.6,784.6 830.2,803.3 830.8,778.5 831.3,796.9 831.9,787.3 832.5,769.8 833.1,771.5 833.6,804.8 834.2,818.3 834.8,780.9 835.4,797.7 835.9,794.4 836.5,796.9 837.1,794.6 837.6,827.5 838.2,765.2 838.8,791.6 839.4,794.7 839.9,801.6 840.5,779.2 841.1,828.3 841.7,785.8 842.2,786.5 842.8,810.2 843.4,796.4 844.0,779.1 844.5,809.7 845.1,812.7 845.7,801.3 846.2,789.4 846.8,819.3 847.4,791.7 848.0,807.7 848.5,796.7 849.1,787.5 849.7,794.3 850.3,806.0 850.8,798.3 851.4,789.2 852.0,820.1 852.6,792.9 853.1,821.7 853.7,765.9 854.3,810.5 854.8,823.8 855.4,801.3 856.0,784.2 856.6,804.3 857.1,830.6 857.7,746.1 858.3,813.3 858.9,798.7 859.4,812.2 860.0,815.5 860.6,822.9 861.2,787.8 861.7,806.1 862.3,809.1 862.9,787.3 863.4,805.3 864.0,824.3 864.6,804.2 865.2,777.6 865.7,834.7 866.3,738.6 866.9,830.0 867.5,738.4 868.0,818.3 868.6,834.4 869.2,780.9 869.8,808.3 870.3,814.7 870.9,801.6 871.5,805.9 872.1,847.8 872.6,753.0 873.2,818.0 873.8,804.0 874.3,792.4 874.9,813.3 875.5,828.3 876.1,776.3 876.6,820.0 877.2,799.8 877.8,822.6 878.4,804.5 878.9,824.4 879.5,757.7 880.1,837.2 880.7,774.5 881.2,844.5 881.8,735.5 882.4,816.2 882.9,783.2 883.5,812.8 884.1,752.3 884.7,760.4 885.2,839.9 885.8,787.7 886.4,831.5 887.0,819.7 887.5,801.2 888.1,788.4 888.7,804.0 889.3,818.9 889.8,780.7 890.4,838.6 891.0,817.2 891.5,802.6 892.1,840.5 892.7,750.5 893.3,824.3 893.8,815.7 894.4,796.8 895.0,837.6 895.6,799.2 896.1,839.4 896.7,796.6 897.3,806.2 897.9,770.3 898.4,824.7 899.0,776.1 899.6,823.2 900.1,839.7 900.7,772.1 901.3,816.7 901.9,823.5 902.4,781.1 903.0,838.2 903.6,809.4 904.2,790.0 904.7,799.2 905.3,831.6 905.9,797.7 906.5,813.0 907.0,798.1 907.6,822.5 908.2,846.7 908.7,798.4 909.3,766.2 909.9,840.1 910.5,808.5 911.0,789.7 911.6,824.9 912.2,831.8 912.8,801.9 913.3,816.8 913.9,828.5 914.5,807.6 915.1,837.8 915.6,831.7 916.2,822.1 916.8,805.8 917.3,811.3 917.9,825.8 918.5,777.0 919.1,811.0 919.6,818.3 920.2,784.6 920.8,788.7 921.4,812.8 921.9,748.6 922.5,785.0 923.1,793.7 923.7,816.4 924.2,820.4 924.8,806.3 925.4,809.0 925.9,849.0 926.5,737.6 927.1,722.4 927.7,755.5 928.2,831.1 928.8,831.4 929.4,782.5 930.0,820.7 930.5,792.7 931.1,831.7 931.7,820.4 932.3,825.0 932.8,823.1 933.4,796.4 934.0,842.6 934.6,796.0 935.1,788.5 935.7,842.7 936.3,810.4 936.8,829.6 937.4,816.3 938.0,808.0 938.6,799.9 939.1,801.5 939.7,837.1 940.3,790.0 940.9,834.8 941.4,834.0 942.0,825.9 942.6,844.8 943.2,792.2 943.7,850.0 944.3,789.0 944.9,729.7 945.4,853.7 946.0,847.8 946.6,779.7 947.2,840.7 947.7,806.2 948.3,816.6 948.9,811.3 949.5,745.6 950.0,832.1 950.6,814.0 951.2,821.8 951.8,831.6 952.3,823.7 952.9,833.4 953.5,778.2 954.0,828.9 954.6,797.4 955.2,816.3 955.8,748.5 956.3,839.4 956.9,799.5 957.5,835.6 958.1,774.3 958.6,832.4 959.2,813.7 959.8,844.3 960.4,783.0 960.9,774.4 961.5,800.8 962.1,849.2 962.6,775.6 963.2,839.8 963.8,843.6 964.4,828.4 964.9,758.3 965.5,835.8 966.1,839.5 966.7,791.8 967.2,812.8 967.8,827.6 968.4,800.2 969.0,830.6 969.5,774.4 970.1,811.8 970.7,826.9 971.2,807.4 971.8,797.1 972.4,829.2 973.0,802.3 973.5,826.0 974.1,824.2 974.7,851.5 975.3,827.1 975.8,828.6 976.4,804.8 977.0,720.8 977.6,857.0 978.1,819.1 978.7,841.5 979.3,814.0 979.8,820.2 980.4,796.8 981.0,851.6 981.6,785.9 982.1,818.6 982.7,828.7 983.3,842.4 983.9,830.7 984.4,812.3 985.0,801.2 985.6,827.9 986.2,835.3 986.7,802.4 987.3,843.8 987.9,781.2 988.5,720.6 989.0,855.2 989.6,683.2 990.2,848.4 990.7,805.2 991.3,689.7 991.9,791.1 992.5,831.4 993.0,777.6 993.6,855.2 994.2,810.0 994.8,817.3 995.3,817.3 995.9,823.8 996.5,753.0 997.1,845.2 997.6,783.0 998.2,820.4 998.8,754.8 999.3,843.9 999.9,795.6 1000.5,812.8 1001.1,860.8 1001.6,754.3 1002.2,794.1 1002.8,786.7 1003.4,853.9 1003.9,811.8 1004.5,776.9 1005.1,852.8 1005.7,826.8 1006.2,790.3 1006.8,807.6 1007.4,787.4 1007.9,804.5 1008.5,826.7 1009.1,844.2 1009.7,823.8 1010.2,811.4 1010.8,808.8 1011.4,822.3 1012.0,796.0 1012.5,843.8 1013.1,821.6 1013.7,843.7 1014.3,712.8 1014.8,842.9 1015.4,786.0 1016.0,794.0 1016.5,824.6 1017.1,827.8 1017.7,829.5 1018.3,820.1 1018.8,852.2 1019.4,812.5 1020.0,787.7 1020.6,820.6 1021.1,798.4 1021.7,807.2 1022.3,809.5 1022.9,824.5 1023.4,815.5 1024.0,793.8 1024.6,837.5 1025.1,845.3 1025.7,770.5 1026.3,828.0 1026.9,785.9 1027.4,844.5 1028.0,848.5 1028.6,803.0 1029.2,833.2 1029.7,835.7 1030.3,746.4 1030.9,829.9 1031.5,847.6 1032.0,843.5 1032.6,801.9 1033.2,801.4 1033.7,819.5 1034.3,787.3 1034.9,825.0 1035.5,810.8 1036.0,859.8 1036.6,738.2 1037.2,844.6 1037.8,782.1 1038.3,857.9 1038.9,825.2 1039.5,765.1 1040.1,855.1 1040.6,798.4 1041.2,831.3 1041.8,749.7 1042.3,829.8 1042.9,702.8 1043.5,834.6 1044.1,853.8 1044.6,714.2 1045.2,850.8 1045.8,811.5 1046.4,821.6 1046.9,852.0 1047.5,772.4 1048.1,836.6 1048.7,852.6 1049.2,836.5 1049.8,852.9 1050.4,814.0 1051.0,816.4 1051.5,840.3 1052.1,809.8 1052.7,829.1 1053.2,801.4 1053.8,826.8 1054.4,825.2 1055.0,838.0 1055.5,839.8 1056.1,830.2 1056.7,797.9 1057.3,836.4 1057.8,762.7 1058.4,817.0 1059.0,855.3 1059.6,788.3 1060.1,788.9 1060.7,847.1 1061.3,769.8 1061.8,848.4 1062.4,751.7 1063.0,825.6 1063.6,832.6 1064.1,853.0 1064.7,802.9 1065.3,837.7 1065.9,800.6 1066.4,844.4 1067.0,795.0 1067.6,837.4 1068.2,797.6 1068.7,805.4 1069.3,826.2 1069.9,809.7 1070.4,794.9 1071.0,851.2 1071.6,789.3 1072.2,821.9 1072.7,770.8 1073.3,841.5 1073.9,788.1 1074.5,859.4 1075.0,746.4 1075.6,617.8 1076.2,816.0 1076.8,799.9 1077.3,854.4 1077.9,811.8 1078.5,816.3 1079.0,829.8 1079.6,830.5 1080.2,782.9 1080.8,831.0 1081.3,827.6 1081.9,817.2 1082.5,778.7 1083.1,780.0 1083.6,814.4 1084.2,820.9 1084.8,853.0 1085.4,820.3 1085.9,837.0 1086.5,833.8 1087.1,765.0 1087.6,845.9 1088.2,763.7 1088.8,833.3 1089.4,825.8 1089.9,824.8 1090.5,849.2 1091.1,814.8 1091.7,788.7 1092.2,812.6 1092.8,825.0 1093.4,803.3 1094.0,824.9 1094.5,811.9 1095.1,734.5 1095.7,842.1 1096.2,856.3 1096.8,849.1 1097.4,815.0 1098.0,805.4 1098.5,793.7 1099.1,832.3 1099.7,816.9 1100.3,805.2 1100.8,847.6 1101.4,809.8 1102.0,810.9 1102.6,833.9 1103.1,836.1 1103.7,793.0 1104.3,794.5 1104.9,831.1 1105.4,862.0 1106.0,813.4 1106.6,822.5 1107.1,802.5 1107.7,836.6 1108.3,826.3 1108.9,783.2 1109.4,796.1 1110.0,832.7 1110.6,845.7 1111.2,837.8 1111.7,782.6 1112.3,844.5 1112.9,812.0 1113.5,825.5 1114.0,814.7 1114.6,813.7 1115.2,846.6 1115.7,825.7 1116.3,807.7 1116.9,822.5 1117.5,849.7 1118.0,717.2 1118.6,859.7 1119.2,762.4 1119.8,860.4 1120.3,761.1 1120.9,861.5 1121.5,760.5 1122.1,666.2 1122.6,799.8 1123.2,845.3 1123.8,803.7 1124.3,817.6 1124.9,819.6 1125.5,835.9 1126.1,765.0 1126.6,863.9 1127.2,837.8 1127.8,838.9 1128.4,741.6 1128.9,852.3 1129.5,829.2 1130.1,830.7 1130.7,820.6 1131.2,823.8 1131.8,830.0 1132.4,848.5 1132.9,785.7 1133.5,825.5 1134.1,768.6 1134.7,827.3 1135.2,827.3 1135.8,850.0 1136.4,798.6 1137.0,804.1 1137.5,773.0 1138.1,829.2 1138.7,801.9 1139.3,813.6 1139.8,774.3 1140.4,808.4 1141.0,831.5 1141.5,850.9 1142.1,728.1 1142.7,835.4 1143.3,839.4 1143.8,844.0 1144.4,844.8 1145.0,785.8 1145.6,827.0 1146.1,808.7 1146.7,784.7 1147.3,845.4 1147.9,802.8 1148.4,835.5 1149.0,834.8 1149.6,856.4 1150.1,813.2 1150.7,769.3 1151.3,842.3 1151.9,803.4 1152.4,819.6 1153.0,742.9 1153.6,802.5 1154.2,847.5 1154.7,822.5 1155.3,772.7 1155.9,825.8 1156.5,818.5 1157.0,780.9 1157.6,817.2 1158.2,820.9 1158.8,703.8 1159.3,840.4 1159.9,850.7 1160.5,787.5 1161.0,814.4 1161.6,760.2 1162.2,828.7 1162.8,836.5 1163.3,797.2 1163.9,848.2 1164.5,812.1 1165.1,801.6 1165.6,841.2 1166.2,852.1 1166.8,821.0 1167.4,826.4 1167.9,786.8 1168.5,663.6 1169.1,813.4 1169.6,549.8 1170.2,802.6 1170.8,833.8 1171.4,790.2 1171.9,817.9 1172.5,770.3 1173.1,819.2 1173.7,832.1 1174.2,835.1 1174.8,798.8 1175.4,797.4 1176.0,775.0 1176.5,845.5 1177.1,842.1 1177.7,845.2 1178.2,822.0 1178.8,809.8 1179.4,822.3 1180.0,822.3 1180.5,814.4 1181.1,806.8 1181.7,855.0 1182.3,791.5 1182.8,822.2 1183.4,819.9 1184.0,826.4 1184.6,852.6 1185.1,771.0 1185.7,834.1 1186.3,814.2 1186.8,806.1 1187.4,819.4 1188.0,804.8 1188.6,809.5 1189.1,842.7 1189.7,834.6 1190.3,768.7 1190.9,843.0 1191.4,663.6 1192.0,858.3 1192.6,795.1 1193.2,820.0 1193.7,807.0 1194.3,841.2 1194.9,791.4 1195.4,741.6 1196.0,848.4 1196.6,856.6 1197.2,752.1 1197.7,811.7 1198.3,800.1 1198.9,842.0 1199.5,789.2 1200.0,791.9 1200.6,837.1 1201.2,806.6 1201.8,798.9 1202.3,798.0 1202.9,829.7 1203.5,805.0 1204.0,734.2 1204.6,773.2 1205.2,856.2 1205.8,683.6 1206.3,846.1 1206.9,767.6 1207.5,852.2 1208.1,802.1 1208.6,828.8 1209.2,772.4 1209.8,818.1 1210.4,802.1 1210.9,806.8 1211.5,812.4 1212.1,783.6 1212.6,821.3 1213.2,816.9 1213.8,829.1 1214.4,637.4 1214.9,816.3 1215.5,529.5 1216.1,781.3 1216.7,828.4 1217.2,718.1 1217.8,800.3 1218.4,826.6 1219.0,800.6 1219.5,817.0 1220.1,853.5 1220.7,740.9 1221.3,815.9 1221.8,852.6 1222.4,740.5 1223.0,836.6 1223.5,810.3 1224.1,849.6 1224.7,783.7 1225.3,795.1 1225.8,828.1 1226.4,804.3 1227.0,854.3 1227.6,752.4 1228.1,818.9 1228.7,810.7 1229.3,784.4 1229.9,782.5 1230.4,825.8 1231.0,772.9 1231.6,748.0 1232.1,854.6 1232.7,788.0 1233.3,850.3 1233.9,765.4 1234.4,758.3 1235.0,830.8 1235.6,838.7 1236.2,809.5 1236.7,783.9 1237.3,611.2 1237.9,830.1 1238.5,762.8 1239.0,848.4 1239.6,781.8 1240.2,838.6 1240.7,839.1 1241.3,737.6 1241.9,777.6 1242.5,842.6 1243.0,651.1 1243.6,832.9 1244.2,789.9 1244.8,808.7 1245.3,839.4 1245.9,735.2 1246.5,816.8 1247.1,789.3 1247.6,808.6 1248.2,820.6 1248.8,657.3 1249.3,824.8 1249.9,819.2 1250.5,773.6 1251.1,845.9 1251.6,766.4 1252.2,653.4 1252.8,852.8 1253.4,771.5 1253.9,843.4 1254.5,782.0 1255.1,755.5 1255.7,845.6 1256.2,819.7 1256.8,726.2 1257.4,812.8 1257.9,782.0 1258.5,794.9 1259.1,845.6 1259.7,836.8 1260.2,836.5 1260.8,739.8 1261.4,847.7 1262.0,836.8 1262.5,794.1 1263.1,799.4 1263.7,790.3 1264.3,853.0 1264.8,682.1 1265.4,845.5 1266.0,779.5 1266.5,806.7 1267.1,832.5 1267.7,653.8 1268.3,796.2 1268.8,758.5 1269.4,732.8 1270.0,740.8 1270.6,802.2 1271.1,791.6 1271.7,823.4 1272.3,840.5 1272.9,750.0 1273.4,826.1 1274.0,801.3 1274.6,813.5 1275.2,773.5 1275.7,820.7 1276.3,635.3 1276.9,807.6 1277.4,829.1 1278.0,774.5 1278.6,739.6 1279.2,849.8 1279.7,766.4 1280.3,820.9 1280.9,787.3 1281.5,817.4 1282.0,782.5 1282.6,783.5 1283.2,781.4 1283.8,848.4 1284.3,728.7 1284.9,809.3 1285.5,820.8 1286.0,789.2 1286.6,709.6 1287.2,827.3 1287.8,659.6 1288.3,744.2 1288.9,816.2 1289.5,761.0 1290.1,799.3 1290.6,734.0 1291.2,835.5 1291.8,801.2 1292.4,732.2 1292.9,735.3 1293.5,816.3 1294.1,740.7 1294.6,799.0 1295.2,804.0 1295.8,845.1 1296.4,614.6 1296.9,786.6 1297.5,861.7 1298.1,689.8 1298.7,827.6 1299.2,821.8 1299.8,799.9 1300.4,746.7 1301.0,809.9 1301.5,802.6 1302.1,798.2 1302.7,806.9 1303.2,762.3 1303.8,856.3 1304.4,810.4 1305.0,775.7 1305.5,831.1 1306.1,762.6 1306.7,811.3 1307.3,768.8 1307.8,807.5 1308.4,762.4 1309.0,804.6 1309.6,758.9 1310.1,818.1 1310.7,842.4 1311.3,754.0 1311.8,792.1 1312.4,811.7 1313.0,726.7 1313.6,789.1 1314.1,720.3 1314.7,828.3 1315.3,800.5 1315.9,757.9 1316.4,722.1 1317.0,835.7 1317.6,683.2 1318.2,800.8 1318.7,802.0 1319.3,734.9 1319.9,768.2 1320.4,775.5 1321.0,824.3 1321.6,776.4 1322.2,842.2 1322.7,717.2 1323.3,838.8 1323.9,774.8 1324.5,738.3 1325.0,812.6 1325.6,776.9 1326.2,816.1 1326.8,595.9 1327.3,855.6 1327.9,789.4 1328.5,782.3 1329.0,594.5 1329.6,842.7 1330.2,772.2 1330.8,746.6 1331.3,856.6 1331.9,665.5 1332.5,787.6 1333.1,705.7 1333.6,740.0 1334.2,792.9 1334.8,737.0 1335.4,826.1 1335.9,817.0 1336.5,662.3 1337.1,769.4 1337.7,800.4 1338.2,754.4 1338.8,761.2 1339.4,692.8 1339.9,819.0 1340.5,799.6 1341.1,746.3 1341.7,781.7 1342.2,757.5 1342.8,692.2 1343.4,836.4 1344.0,716.8 1344.5,723.0 1345.1,745.1 1345.7,846.8 1346.3,763.3 1346.8,692.1 1347.4,804.9 1348.0,758.4 1348.5,794.4 1349.1,698.0 1349.7,795.5 1350.3,638.7 1350.8,769.3 1351.4,696.9 1352.0,790.7 1352.6,841.1 1353.1,829.8 1353.7,674.9 1354.3,845.3 1354.9,732.0 1355.4,812.9 1356.0,754.4 1356.6,814.9 1357.1,847.2 1357.7,590.5 1358.3,809.9 1358.9,790.0 1359.4,676.6 1360.0,783.6 1360.6,740.5 1361.2,811.3 1361.7,772.5 1362.3,763.2 1362.9,814.8 1363.5,719.6 1364.0,779.9 1364.6,803.7 1365.2,794.3 1365.7,722.6 1366.3,805.7 1366.9,758.1 1367.5,500.1 1368.0,796.5 1368.6,858.7 1369.2,661.2 1369.8,747.8 1370.3,820.3 1370.9,798.3 1371.5,712.0 1372.1,836.6 1372.6,661.7 1373.2,781.1 1373.8,715.2 1374.3,808.2 1374.9,775.0 1375.5,769.5 1376.1,837.9 1376.6,789.2 1377.2,684.2 1377.8,824.8 1378.4,807.5 1378.9,738.8 1379.5,706.0 1380.1,808.1 1380.7,164.2 1381.2,775.5 1381.8,757.4 1382.4,839.8 1382.9,717.1 1383.5,767.6 1384.1,730.8 1384.7,746.8 1385.2,771.2 1385.8,661.8 1386.4,814.7 1387.0,784.2 1387.5,664.7 1388.1,804.6 1388.7,805.4 1389.3,791.3 1389.8,766.6 1390.4,828.4 1391.0,670.9 1391.6,784.6 1392.1,709.0 1392.7,834.9 1393.3,772.4 1393.8,799.3 1394.4,731.2 1395.0,770.4 1395.6,746.5 1396.1,758.7 1396.7,829.4 1397.3,734.3 1397.9,779.3 1398.4,780.3 1399.0,749.8 1399.6,846.6 1400.2,769.4 1400.7,775.9 1401.3,807.7 1401.9,810.0 1402.4,552.4 1403.0,753.5 1403.6,694.9 1404.2,837.4 1404.7,842.1 1405.3,661.5 1405.9,805.4 1406.5,815.6 1407.0,719.9 1407.6,793.1 1408.2,837.6 1408.8,729.9 1409.3,837.7 1409.9,700.3 1410.5,832.9 1411.0,817.4 1411.6,690.1 1412.2,624.3 1412.8,807.8 1413.3,819.9 1413.9,712.4 1414.5,786.1 1415.1,770.6 1415.6,800.9 1416.2,828.4 1416.8,769.7 1417.4,668.9 1417.9,828.0 1418.5,770.0 1419.1,779.5 1419.6,722.9 1420.2,785.7 1420.8,802.7 1421.4,624.9 1421.9,807.3 1422.5,413.1 1423.1,811.8 1423.7,825.1 1424.2,710.1 1424.8,802.3 1425.4,753.6 1426.0,852.3 1426.5,547.6 1427.1,808.5 1427.7,733.8 1428.2,831.1 1428.8,746.6 1429.4,772.8 1430.0,715.9 1430.5,763.7 1431.1,852.5 1431.7,708.7 1432.3,776.3 1432.8,795.0 1433.4,758.9 1434.0,752.0 1434.6,637.4 1435.1,834.3 1435.7,792.8 1436.3,755.1 1436.8,742.0 1437.4,825.6 1438.0,754.1 1438.6,825.8 1439.1,743.9 1439.7,786.4 1440.3,744.9 1440.9,705.8 1441.4,829.4 1442.0,732.6 1442.6,838.9 1443.2,715.3 1443.7,664.2 1444.3,851.2 1444.9,560.2 1445.5,860.3 1446.0,641.4 1446.6,626.2 1447.2,842.3 1447.7,733.1 1448.3,697.1 1448.9,829.0 1449.5,745.7 1450.0,812.0 1450.6,782.4 1451.2,763.5 1451.8,724.5 1452.3,611.2 1452.9,782.7 1453.5,783.1 1454.1,701.9 1454.6,774.6 1455.2,765.9 1455.8,844.8 1456.3,740.1 1456.9,815.7 1457.5,593.4 1458.1,781.0 1458.6,701.3 1459.2,831.1 1459.8,821.6 1460.4,780.6 1460.9,604.7 1461.5,815.4 1462.1,710.1 1462.7,709.8 1463.2,814.1 1463.8,701.1 1464.4,856.6 1464.9,786.5 1465.5,777.0 1466.1,777.6 1466.7,581.2 1467.2,759.7 1467.8,694.7 1468.4,753.5 1469.0,771.8 1469.5,819.6 1470.1,591.6 1470.7,773.1 1471.3,825.7 1471.8,755.1" stroke="#ffa500" stroke-dasharray="16.6 16.6"/>
<path d="M1380.7 164.2V663.6" stroke="#ffa500" stroke-dasharray="31.6 1.6"/>
<path d="M612.3,894.9 612.9,862.3 613.4,822.1 614.0,782.0 614.6,747.6 615.2,717.6 615.7,692.9 616.3,671.4 616.9,651.7 617.5,632.7 618.0,617.9 618.6,607.7 619.2,599.4 619.8,592.7 620.3,587.0 620.9,582.3 621.5,577.9 622.0,573.4 622.6,568.6 623.2,563.6 623.8,555.8 624.3,554.3 624.9,547.2 625.5,548.0 626.1,540.8 626.6,535.4 627.2,535.1 627.8,528.8 628.4,521.5 628.9,516.4 629.5,517.0 630.1,513.8 630.6,514.5 631.2,512.2 631.8,509.9 632.4,503.2 632.9,500.3 633.5,500.9 634.1,499.8 634.7,494.6 635.2,492.4 635.8,491.2 636.4,486.1 637.0,486.7 637.5,484.2 638.1,483.9 638.7,478.7 639.2,473.6 639.8,473.6 640.4,471.0 641.0,467.9 641.5,465.9 642.1,463.0 642.7,460.7 643.3,458.3 643.8,459.0 644.4,454.6 645.0,456.3 645.6,450.3 646.1,451.3 646.7,446.8 647.3,443.5 647.9,443.3 648.4,440.2 649.0,441.7 649.6,438.0 650.1,432.8 650.7,434.6 651.3,428.9 651.9,431.0 652.4,428.0 653.0,426.4 653.6,422.1 654.2,419.0 654.7,420.3 655.3,416.5 655.9,410.7 656.5,412.7 657.0,411.7 657.6,407.2 658.2,406.4 658.7,405.3 659.3,405.4 659.9,398.0 660.5,398.7 661.0,395.4 661.6,395.5 662.2,388.6 662.8,387.6 663.3,385.1 663.9,385.2 664.5,382.0 665.1,379.1 665.6,376.8 666.2,376.3 666.8,375.1 667.3,373.7 667.9,372.6 668.5,371.2 669.1,366.6 669.6,366.0 670.2,367.8 670.8,362.3 671.4,358.0 671.9,359.0 672.5,360.5 673.1,355.2 673.7,351.7 674.2,351.2 674.8,350.8 675.4,344.4 675.9,342.7 676.5,345.2 677.1,341.7 677.7,341.0 678.2,338.6 678.8,335.7 679.4,335.4 680.0,335.4 680.5,335.4 681.1,334.2 681.7,331.1 682.3,327.2 682.8,327.6 683.4,326.7 684.0,324.8 684.5,323.9 685.1,321.4 685.7,323.5 686.3,323.9 686.8,319.3 687.4,319.5 688.0,312.4 688.6,314.8 689.1,313.7 689.7,315.0 690.3,310.0 690.9,310.6 691.4,305.7 692.0,305.0 692.6,307.2 693.1,303.5 693.7,308.8 694.3,303.4 694.9,298.3 695.4,298.1 696.0,298.2 696.6,297.6 697.2,299.4 697.7,298.2 698.3,293.9 698.9,289.7 699.5,296.9 700.0,290.1 700.6,289.3 701.2,287.6 701.8,290.5 702.3,288.9 702.9,286.8 703.5,288.1 704.0,287.7 704.6,286.2 705.2,283.7 705.8,281.9 706.3,281.9 706.9,280.9 707.5,281.7 708.1,281.0 708.6,276.4 709.2,278.1 709.8,277.3 710.4,274.5 710.9,273.1 711.5,272.3 712.1,273.3 712.6,273.5 713.2,272.1 713.8,271.5 714.4,268.3 714.9,269.9 715.5,268.4 716.1,269.1 716.7,265.5 717.2,271.9 717.8,266.2 718.4,264.7 719.0,268.0 719.5,260.5 720.1,264.5 720.7,263.9 721.2,265.1 721.8,260.4 722.4,261.1 723.0,262.2 723.5,259.8 724.1,258.2 724.7,256.5 725.3,257.9 725.8,259.7 726.4,258.3 727.0,261.3 727.6,257.4 728.1,253.8 728.7,253.7 729.3,254.3 729.8,254.2 730.4,249.6 731.0,251.7 731.6,249.8 732.1,250.3 732.7,251.9 733.3,246.7 733.9,251.9 734.4,251.3 735.0,249.1 735.6,249.2 736.2,248.2 736.7,247.8 737.3,243.9 737.9,245.3 738.4,244.2 739.0,247.6 739.6,245.6 740.2,241.1 740.7,245.3 741.3,239.8 741.9,243.9 742.5,240.6 743.0,242.5 743.6,239.9 744.2,241.6 744.8,239.8 745.3,235.4 745.9,239.1 746.5,233.7 747.0,238.4 747.6,239.4 748.2,236.4 748.8,236.9 749.3,232.0 749.9,233.4 750.5,232.3 751.1,233.0 751.6,228.8 752.2,231.8 752.8,231.9 753.4,234.3 753.9,234.1 754.5,231.4 755.1,229.3 755.6,228.6 756.2,232.5 756.8,229.0 757.4,229.3 757.9,231.6 758.5,227.9 759.1,233.2 759.7,227.6 760.2,222.7 760.8,229.5 761.4,227.0 762.0,230.5 762.5,227.8 763.1,224.3 763.7,227.6 764.3,225.2 764.8,225.5 765.4,225.1 766.0,223.6 766.5,222.6 767.1,220.7 767.7,221.2 768.3,223.7 768.8,219.2 769.4,219.2 770.0,224.6 770.6,219.7 771.1,219.0 771.7,218.3 772.3,218.8 772.9,222.2 773.4,219.7 774.0,223.1 774.6,218.8 775.1,213.9 775.7,216.3 776.3,215.7 776.9,218.1 777.4,218.8 778.0,218.6 778.6,215.7 779.2,217.3 779.7,216.6 780.3,212.6 780.9,218.1 781.5,217.1 782.0,215.1 782.6,213.9 783.2,213.7 783.7,216.0 784.3,212.7 784.9,212.6 785.5,212.0 786.0,212.6 786.6,211.5 787.2,211.3 787.8,211.5 788.3,211.0 788.9,210.9 789.5,209.6 790.1,211.9 790.6,210.7 791.2,210.7 791.8,209.7 792.3,209.6 792.9,209.2 793.5,208.4 794.1,209.5 794.6,208.8 795.2,208.3 795.8,208.6 796.4,207.5 796.9,207.3 797.5,207.7 798.1,208.1 798.7,206.0 799.2,206.5 799.8,206.3 800.4,206.3 800.9,206.2 801.5,205.5 802.1,205.8 802.7,206.0 803.2,205.0 803.8,205.2 804.4,205.5 805.0,205.4 805.5,204.1 806.1,204.2 806.7,203.2 807.3,204.5 807.8,204.5 808.4,203.6 809.0,202.9 809.5,203.2 810.1,203.1 810.7,202.1 811.3,203.5 811.8,203.6 812.4,203.2 813.0,202.8 813.6,202.2 814.1,201.7 814.7,201.9 815.3,201.1 815.9,202.3 816.4,200.6 817.0,202.0 817.6,200.7 818.2,201.8 818.7,200.9 819.3,201.0 819.9,200.6 820.4,200.3 821.0,200.7 821.6,200.5 822.2,200.2 822.7,201.0 823.3,200.5 823.9,200.9 824.5,199.8 825.0,198.4 825.6,199.2 826.2,200.0 826.8,199.7 827.3,198.6 827.9,199.4 828.5,199.9 829.0,199.4 829.6,199.3 830.2,199.1 830.8,198.0 831.3,198.2 831.9,199.0 832.5,198.3 833.1,198.5 833.6,198.4 834.2,198.4 834.8,196.4 835.4,197.4 835.9,196.8 836.5,196.4 837.1,197.0 837.6,196.3 838.2,196.1 838.8,196.1 839.4,194.9 839.9,195.8 840.5,195.9 841.1,195.2 841.7,194.4 842.2,194.7 842.8,195.4 843.4,195.4 844.0,195.3 844.5,195.0 845.1,194.3 845.7,193.9 846.2,195.5 846.8,194.1 847.4,194.6 848.0,193.4 848.5,193.2 849.1,194.1 849.7,193.8 850.3,194.0 850.8,193.1 851.4,194.2 852.0,193.8 852.6,193.5 853.1,192.3 853.7,191.5 854.3,192.8 854.8,193.5 855.4,192.7 856.0,193.1 856.6,192.3 857.1,193.2 857.7,192.7 858.3,192.4 858.9,192.0 859.4,192.3 860.0,191.5 860.6,192.1 861.2,193.2 861.7,191.5 862.3,192.2 862.9,192.3 863.4,191.0 864.0,192.4 864.6,191.7 865.2,192.1 865.7,190.9 866.3,191.8 866.9,191.4 867.5,192.3 868.0,190.6 868.6,191.9 869.2,190.7 869.8,190.6 870.3,190.4 870.9,190.0 871.5,191.6 872.1,190.7 872.6,190.7 873.2,190.5 873.8,190.0 874.3,190.5 874.9,190.9 875.5,190.4 876.1,189.4 876.6,190.9 877.2,190.0 877.8,190.6 878.4,189.3 878.9,190.7 879.5,189.9 880.1,189.7 880.7,189.4 881.2,188.1 881.8,188.4 882.4,189.8 882.9,187.9 883.5,189.7 884.1,190.0 884.7,189.7 885.2,188.6 885.8,188.3 886.4,189.8 887.0,188.2 887.5,188.5 888.1,187.8 888.7,188.3 889.3,187.5 889.8,187.6 890.4,188.5 891.0,186.9 891.5,187.5 892.1,187.1 892.7,186.7 893.3,187.9 893.8,187.3 894.4,187.6 895.0,187.6 895.6,186.8 896.1,186.7 896.7,186.1 897.3,186.0 897.9,186.7 898.4,187.1 899.0,184.7 899.6,185.2 900.1,186.4 900.7,186.8 901.3,186.5 901.9,186.0 902.4,185.5 903.0,185.5 903.6,185.7 904.2,186.0 904.7,185.7 905.3,185.9 905.9,185.7 906.5,185.7 907.0,185.3 907.6,186.6 908.2,185.6 908.7,185.5 909.3,186.0 909.9,185.4 910.5,185.8 911.0,185.5 911.6,185.2 912.2,185.2 912.8,185.3 913.3,184.3 913.9,184.7 914.5,184.6 915.1,184.6 915.6,185.0 916.2,185.1 916.8,184.1 917.3,184.7 917.9,185.4 918.5,185.6 919.1,184.2 919.6,184.7 920.2,184.2 920.8,184.4 921.4,184.3 921.9,184.1 922.5,184.7 923.1,183.9 923.7,183.3 924.2,183.4 924.8,184.7 925.4,184.5 925.9,184.4 926.5,183.7 927.1,183.0 927.7,183.3 928.2,184.4 928.8,183.3 929.4,182.9 930.0,183.5 930.5,182.1 931.1,183.5 931.7,182.4 932.3,181.7 932.8,183.7 933.4,183.1 934.0,182.6 934.6,181.0 935.1,183.8 935.7,182.4 936.3,182.5 936.8,182.9 937.4,183.0 938.0,182.8 938.6,182.6 939.1,183.1 939.7,181.4 940.3,182.9 940.9,182.5 941.4,182.6 942.0,182.4 942.6,182.0 943.2,182.5 943.7,182.1 944.3,180.9 944.9,181.3 945.4,182.0 946.0,181.2 946.6,182.2 947.2,181.5 947.7,182.4 948.3,182.2 948.9,182.0 949.5,180.7 950.0,181.3 950.6,181.0 951.2,181.2 951.8,181.0 952.3,181.0 952.9,180.7 953.5,181.0 954.0,181.6 954.6,181.4 955.2,180.2 955.8,180.1 956.3,180.5 956.9,181.7 957.5,179.8 958.1,180.5 958.6,180.7 959.2,180.6 959.8,180.8 960.4,179.5 960.9,179.5 961.5,181.0 962.1,180.5 962.6,180.1 963.2,179.5 963.8,181.6 964.4,179.6 964.9,179.1 965.5,180.2 966.1,180.0 966.7,179.2 967.2,179.7 967.8,180.6 968.4,180.5 969.0,180.4 969.5,180.5 970.1,179.7 970.7,179.9 971.2,179.6 971.8,179.1 972.4,178.5 973.0,179.3 973.5,180.5 974.1,178.5 974.7,179.4 975.3,178.6 975.8,179.5 976.4,179.0 977.0,179.2 977.6,179.1 978.1,178.3 978.7,179.4 979.3,178.8 979.8,178.8 980.4,179.1 981.0,180.1 981.6,178.6 982.1,180.4 982.7,179.5 983.3,178.9 983.9,178.3 984.4,178.1 985.0,178.0 985.6,178.1 986.2,178.6 986.7,177.7 987.3,178.5 987.9,177.7 988.5,179.5 989.0,178.8 989.6,178.5 990.2,178.1 990.7,179.5 991.3,177.6 991.9,177.4 992.5,177.5 993.0,178.2 993.6,177.0 994.2,178.2 994.8,177.3 995.3,177.8 995.9,177.7 996.5,177.8 997.1,177.6 997.6,177.0 998.2,176.7 998.8,176.7 999.3,176.9 999.9,177.0 1000.5,177.1 1001.1,176.3 1001.6,177.6 1002.2,177.6 1002.8,177.2 1003.4,178.2 1003.9,177.3 1004.5,177.1 1005.1,177.7 1005.7,177.4 1006.2,176.6 1006.8,177.1 1007.4,176.9 1007.9,176.3 1008.5,177.2 1009.1,177.5 1009.7,176.8 1010.2,176.5 1010.8,177.7 1011.4,176.3 1012.0,176.8 1012.5,176.8 1013.1,177.1 1013.7,176.6 1014.3,175.9 1014.8,176.1 1015.4,176.0 1016.0,176.6 1016.5,175.4 1017.1,175.6 1017.7,176.3 1018.3,177.8 1018.8,176.2 1019.4,174.6 1020.0,176.2 1020.6,176.7 1021.1,175.1 1021.7,176.4 1022.3,175.7 1022.9,175.5 1023.4,176.8 1024.0,175.9 1024.6,175.2 1025.1,176.1 1025.7,175.5 1026.3,175.8 1026.9,175.2 1027.4,174.7 1028.0,176.3 1028.6,175.9 1029.2,175.4 1029.7,176.0 1030.3,176.1 1030.9,175.8 1031.5,175.7 1032.0,175.9 1032.6,175.3 1033.2,175.0 1033.7,175.0 1034.3,175.0 1034.9,174.7 1035.5,176.1 1036.0,175.4 1036.6,175.2 1037.2,175.0 1037.8,176.2 1038.3,174.2 1038.9,175.7 1039.5,175.0 1040.1,174.7 1040.6,174.5 1041.2,175.5 1041.8,175.4 1042.3,174.8 1042.9,174.7 1043.5,174.5 1044.1,175.0 1044.6,175.4 1045.2,175.7 1045.8,173.9 1046.4,175.7 1046.9,174.5 1047.5,174.7 1048.1,174.4 1048.7,174.3 1049.2,174.0 1049.8,174.8 1050.4,174.5 1051.0,175.8 1051.5,174.7 1052.1,175.2 1052.7,174.7 1053.2,173.9 1053.8,174.5 1054.4,173.9 1055.0,174.7 1055.5,174.3 1056.1,174.7 1056.7,175.9 1057.3,174.9 1057.8,174.6 1058.4,174.3 1059.0,174.4 1059.6,174.4 1060.1,173.8 1060.7,174.0 1061.3,174.5 1061.8,173.8 1062.4,175.4 1063.0,174.4 1063.6,174.3 1064.1,173.4 1064.7,174.5 1065.3,175.0 1065.9,174.0 1066.4,173.1 1067.0,174.2 1067.6,174.1 1068.2,174.1 1068.7,174.0 1069.3,173.2 1069.9,172.8 1070.4,173.7 1071.0,174.0 1071.6,172.8 1072.2,173.8 1072.7,173.8 1073.3,174.0 1073.9,174.0 1074.5,173.6 1075.0,173.9 1075.6,173.5 1076.2,173.6 1076.8,173.3 1077.3,173.9 1077.9,173.7 1078.5,173.4 1079.0,173.5 1079.6,173.5 1080.2,172.8 1080.8,174.1 1081.3,174.6 1081.9,173.0 1082.5,173.5 1083.1,172.6 1083.6,173.4 1084.2,174.0 1084.8,172.0 1085.4,173.1 1085.9,173.5 1086.5,173.7 1087.1,172.9 1087.6,173.6 1088.2,172.9 1088.8,172.5 1089.4,173.9 1089.9,173.3 1090.5,172.8 1091.1,172.1 1091.7,172.5 1092.2,173.2 1092.8,172.1 1093.4,173.1 1094.0,173.0 1094.5,172.7 1095.1,173.5 1095.7,171.1 1096.2,172.1 1096.8,172.7 1097.4,173.1 1098.0,173.4 1098.5,172.5 1099.1,172.3 1099.7,172.9 1100.3,172.8 1100.8,172.3 1101.4,172.6 1102.0,173.7 1102.6,172.2 1103.1,172.4 1103.7,172.1 1104.3,172.9 1104.9,173.7 1105.4,173.2 1106.0,172.3 1106.6,171.2 1107.1,171.0 1107.7,172.2 1108.3,173.2 1108.9,172.5 1109.4,172.0 1110.0,172.0 1110.6,172.2 1111.2,171.5 1111.7,172.7 1112.3,173.4 1112.9,172.7 1113.5,172.8 1114.0,170.9 1114.6,172.2 1115.2,172.9 1115.7,171.7 1116.3,171.5 1116.9,172.0 1117.5,171.9 1118.0,171.4 1118.6,171.7 1119.2,172.4 1119.8,171.6 1120.3,171.4 1120.9,171.7 1121.5,171.4 1122.1,171.6 1122.6,172.0 1123.2,171.9 1123.8,171.5 1124.3,172.1 1124.9,171.1 1125.5,171.1 1126.1,172.9 1126.6,171.8 1127.2,172.2 1127.8,172.1 1128.4,171.6 1128.9,171.8 1129.5,171.3 1130.1,171.5 1130.7,171.4 1131.2,172.1 1131.8,171.8 1132.4,170.7 1132.9,173.0 1133.5,170.6 1134.1,171.9 1134.7,170.8 1135.2,173.0 1135.8,171.7 1136.4,171.0 1137.0,171.4 1137.5,170.8 1138.1,171.9 1138.7,171.7 1139.3,171.8 1139.8,171.1 1140.4,171.1 1141.0,171.4 1141.5,171.5 1142.1,171.5 1142.7,171.2 1143.3,171.8 1143.8,171.3 1144.4,171.3 1145.0,171.5 1145.6,171.5 1146.1,170.4 1146.7,171.5 1147.3,170.9 1147.9,170.4 1148.4,170.7 1149.0,171.1 1149.6,170.5 1150.1,171.9 1150.7,171.8 1151.3,171.3 1151.9,171.2 1152.4,171.1 1153.0,169.9 1153.6,170.0 1154.2,171.0 1154.7,170.8 1155.3,171.5 1155.9,170.8 1156.5,171.7 1157.0,170.1 1157.6,171.2 1158.2,170.6 1158.8,171.6 1159.3,170.1 1159.9,170.5 1160.5,169.7 1161.0,170.8 1161.6,171.7 1162.2,171.3 1162.8,171.5 1163.3,169.9 1163.9,171.1 1164.5,171.2 1165.1,170.4 1165.6,170.6 1166.2,170.4 1166.8,171.0 1167.4,171.8 1167.9,171.5 1168.5,171.9 1169.1,169.9 1169.6,170.1 1170.2,170.8 1170.8,170.3 1171.4,170.2 1171.9,170.2 1172.5,170.3 1173.1,170.1 1173.7,170.5 1174.2,171.8 1174.8,172.1 1175.4,169.8 1176.0,170.2 1176.5,171.9 1177.1,170.4 1177.7,171.0 1178.2,170.8 1178.8,172.0 1179.4,170.0 1180.0,170.5 1180.5,170.0 1181.1,169.8 1181.7,169.7 1182.3,169.4 1182.8,170.2 1183.4,170.2 1184.0,170.7 1184.6,170.0 1185.1,170.5 1185.7,171.0 1186.3,169.6 1186.8,169.9 1187.4,171.8 1188.0,171.3 1188.6,170.4 1189.1,171.0 1189.7,169.5 1190.3,170.1 1190.9,169.9 1191.4,169.7 1192.0,169.4 1192.6,170.3 1193.2,169.8 1193.7,170.0 1194.3,169.7 1194.9,169.8 1195.4,169.3 1196.0,169.8 1196.6,170.4 1197.2,170.0 1197.7,170.7 1198.3,169.9 1198.9,169.2 1199.5,170.4 1200.0,171.0 1200.6,170.0 1201.2,170.3 1201.8,170.0 1202.3,170.3 1202.9,169.9 1203.5,170.5 1204.0,169.0 1204.6,170.0 1205.2,169.6 1205.8,169.4 1206.3,170.0 1206.9,169.6 1207.5,170.0 1208.1,170.1 1208.6,169.9 1209.2,169.5 1209.8,170.5 1210.4,170.3 1210.9,170.2 1211.5,170.1 1212.1,169.1 1212.6,169.7 1213.2,169.9 1213.8,169.6 1214.4,169.1 1214.9,170.1 1215.5,169.0 1216.1,171.0 1216.7,170.1 1217.2,168.7 1217.8,168.7 1218.4,169.4 1219.0,169.8 1219.5,169.1 1220.1,169.8 1220.7,168.6 1221.3,168.8 1221.8,169.0 1222.4,169.9 1223.0,168.9 1223.5,169.6 1224.1,169.5 1224.7,169.6 1225.3,169.4 1225.8,169.1 1226.4,168.9 1227.0,168.8 1227.6,167.4 1228.1,169.5 1228.7,168.6 1229.3,169.7 1229.9,169.4 1230.4,169.9 1231.0,168.5 1231.6,169.1 1232.1,169.1 1232.7,169.2 1233.3,168.6 1233.9,169.4 1234.4,168.9 1235.0,167.7 1235.6,169.2 1236.2,169.5 1236.7,169.7 1237.3,168.6 1237.9,169.0 1238.5,169.5 1239.0,169.5 1239.6,169.0 1240.2,169.6 1240.7,167.8 1241.3,169.1 1241.9,169.1 1242.5,169.0 1243.0,170.0 1243.6,169.8 1244.2,169.1 1244.8,168.9 1245.3,169.6 1245.9,167.9 1246.5,168.6 1247.1,168.1 1247.6,168.2 1248.2,168.9 1248.8,167.4 1249.3,168.7 1249.9,169.9 1250.5,170.1 1251.1,168.8 1251.6,168.2 1252.2,168.7 1252.8,167.7 1253.4,168.9 1253.9,168.4 1254.5,168.3 1255.1,169.3 1255.7,168.5 1256.2,168.4 1256.8,168.0 1257.4,167.9 1257.9,168.0 1258.5,169.0 1259.1,168.2 1259.7,168.0 1260.2,168.5 1260.8,168.1 1261.4,168.1 1262.0,167.8 1262.5,168.5 1263.1,168.2 1263.7,168.4 1264.3,168.4 1264.8,168.8 1265.4,168.7 1266.0,169.1 1266.5,168.6 1267.1,168.0 1267.7,168.1 1268.3,168.0 1268.8,168.5 1269.4,167.6 1270.0,168.6 1270.6,167.9 1271.1,168.1 1271.7,168.8 1272.3,168.7 1272.9,167.9 1273.4,168.3 1274.0,168.1 1274.6,166.5 1275.2,167.9 1275.7,168.2 1276.3,167.8 1276.9,168.6 1277.4,168.3 1278.0,168.0 1278.6,168.7 1279.2,168.2 1279.7,168.3 1280.3,168.1 1280.9,169.2 1281.5,167.1 1282.0,168.2 1282.6,167.8 1283.2,168.7 1283.8,168.9 1284.3,168.1 1284.9,168.3 1285.5,167.7 1286.0,168.6 1286.6,168.6 1287.2,167.8 1287.8,167.6 1288.3,167.5 1288.9,168.0 1289.5,167.8 1290.1,168.4 1290.6,167.2 1291.2,167.3 1291.8,167.3 1292.4,168.9 1292.9,167.4 1293.5,168.3 1294.1,167.6 1294.6,167.6 1295.2,167.2 1295.8,168.0 1296.4,168.1 1296.9,168.4 1297.5,168.5 1298.1,167.5 1298.7,168.3 1299.2,167.4 1299.8,168.0 1300.4,168.1 1301.0,167.2 1301.5,167.3 1302.1,168.3 1302.7,167.8 1303.2,167.7 1303.8,167.3 1304.4,168.1 1305.0,167.9 1305.5,167.8 1306.1,167.3 1306.7,167.2 1307.3,168.0 1307.8,166.6 1308.4,167.4 1309.0,168.1 1309.6,168.5 1310.1,167.9 1310.7,169.0 1311.3,167.5 1311.8,167.3 1312.4,166.8 1313.0,167.3 1313.6,168.5 1314.1,167.7 1314.7,167.1 1315.3,168.8 1315.9,168.0 1316.4,167.1 1317.0,167.4 1317.6,168.6 1318.2,167.7 1318.7,167.4 1319.3,166.2 1319.9,167.7 1320.4,167.9 1321.0,167.3 1321.6,167.2 1322.2,167.1 1322.7,166.5 1323.3,167.4 1323.9,168.1 1324.5,167.3 1325.0,167.3 1325.6,166.8 1326.2,166.8 1326.8,167.7 1327.3,166.8 1327.9,166.7 1328.5,167.4 1329.0,166.7 1329.6,167.1 1330.2,167.1 1330.8,167.3 1331.3,166.7 1331.9,165.5 1332.5,167.1 1333.1,167.8 1333.6,167.3 1334.2,167.5 1334.8,167.0 1335.4,167.2 1335.9,165.7 1336.5,166.7 1337.1,166.0 1337.7,167.5 1338.2,167.2 1338.8,165.9 1339.4,168.0 1339.9,167.0 1340.5,167.9 1341.1,166.2 1341.7,167.8 1342.2,167.2 1342.8,167.1 1343.4,168.0 1344.0,165.6 1344.5,167.1 1345.1,166.0 1345.7,167.4 1346.3,167.8 1346.8,166.8 1347.4,166.8 1348.0,165.2 1348.5,167.5 1349.1,167.8 1349.7,167.3 1350.3,166.7 1350.8,166.5 1351.4,167.3 1352.0,167.1 1352.6,166.5 1353.1,166.2 1353.7,167.2 1354.3,166.7 1354.9,168.4 1355.4,167.4 1356.0,166.6 1356.6,166.8 1357.1,166.9 1357.7,165.8 1358.3,166.9 1358.9,167.4 1359.4,166.6 1360.0,166.6 1360.6,167.4 1361.2,166.2 1361.7,165.7 1362.3,167.0 1362.9,167.2 1363.5,166.7 1364.0,166.0 1364.6,167.0 1365.2,167.1 1365.7,167.0 1366.3,166.5 1366.9,166.5 1367.5,166.7 1368.0,165.9 1368.6,165.3 1369.2,166.9 1369.8,166.0 1370.3,166.4 1370.9,164.9 1371.5,167.1 1372.1,166.8 1372.6,166.5 1373.2,167.4 1373.8,166.7 1374.3,166.1 1374.9,167.4 1375.5,166.5 1376.1,165.5 1376.6,166.9 1377.2,167.0 1377.8,168.0 1378.4,166.6 1378.9,167.4 1379.5,166.2 1380.1,165.5 1380.7,166.2 1381.2,166.9 1381.8,166.1 1382.4,166.7 1382.9,167.1 1383.5,166.7 1384.1,166.3 1384.7,166.6 1385.2,166.1 1385.8,165.2 1386.4,166.1 1387.0,166.0 1387.5,166.8 1388.1,165.6 1388.7,166.2 1389.3,165.8 1389.8,166.8 1390.4,166.2 1391.0,167.7 1391.6,166.6 1392.1,166.8 1392.7,166.9 1393.3,165.3 1393.8,167.2 1394.4,166.4 1395.0,166.4 1395.6,166.0 1396.1,165.7 1396.7,167.2 1397.3,166.6 1397.9,166.7 1398.4,165.9 1399.0,165.7 1399.6,166.5 1400.2,166.6 1400.7,166.8 1401.3,166.0 1401.9,165.3 1402.4,166.0 1403.0,166.6 1403.6,166.7 1404.2,166.6 1404.7,167.2 1405.3,165.2 1405.9,166.2 1406.5,166.4 1407.0,164.9 1407.6,166.1 1408.2,165.3 1408.8,166.0 1409.3,165.5 1409.9,166.1 1410.5,166.4 1411.0,165.9 1411.6,165.7 1412.2,165.5 1412.8,166.0 1413.3,166.3 1413.9,166.3 1414.5,165.9 1415.1,166.4 1415.6,166.3 1416.2,165.8 1416.8,165.7 1417.4,165.8 1417.9,166.5 1418.5,166.9 1419.1,165.9 1419.6,166.0 1420.2,166.3 1420.8,165.9 1421.4,165.5 1421.9,166.1 1422.5,165.8 1423.1,166.6 1423.7,166.1 1424.2,166.5 1424.8,166.8 1425.4,165.7 1426.0,167.6 1426.5,166.0 1427.1,165.5 1427.7,165.7 1428.2,166.8 1428.8,165.8 1429.4,167.0 1430.0,166.4 1430.5,165.1 1431.1,165.8 1431.7,165.2 1432.3,166.5 1432.8,167.1 1433.4,166.3 1434.0,165.1 1434.6,165.3 1435.1,165.2 1435.7,165.9 1436.3,165.9 1436.8,166.0 1437.4,164.2 1438.0,165.8 1438.6,164.8 1439.1,165.9 1439.7,165.0 1440.3,166.4 1440.9,166.1 1441.4,165.6 1442.0,166.1 1442.6,166.0 1443.2,165.9 1443.7,166.1 1444.3,164.9 1444.9,165.1 1445.5,166.5 1446.0,164.7 1446.6,165.7 1447.2,165.7 1447.7,165.8 1448.3,165.2 1448.9,165.3 1449.5,166.0 1450.0,165.6 1450.6,166.4 1451.2,164.6 1451.8,166.1 1452.3,166.2 1452.9,166.0 1453.5,165.5 1454.1,165.2 1454.6,165.8 1455.2,165.6 1455.8,165.8 1456.3,164.9 1456.9,165.5 1457.5,166.6 1458.1,164.7 1458.6,165.4 1459.2,164.4 1459.8,165.9 1460.4,165.8 1460.9,165.6 1461.5,166.3 1462.1,165.7 1462.7,164.8 1463.2,165.1 1463.8,166.9 1464.4,164.8 1464.9,165.3 1465.5,165.0 1466.1,165.4 1466.7,165.4 1467.2,165.4 1467.8,165.4 1468.4,166.0 1469.0,164.8 1469.5,165.3 1470.1,165.2 1470.7,165.2 1471.3,165.6 1471.8,165.4" stroke="#0000ff" stroke-linecap="square"/>
<path d="M612.3,894.9 612.9,860.0 613.4,818.0 614.0,779.8 614.6,743.3 615.2,712.8 615.7,687.5 616.3,668.3 616.9,646.9 617.5,631.5 618.0,616.0 618.6,603.7 619.2,596.4 619.8,589.1 620.3,583.3 620.9,579.0 621.5,576.5 622.0,573.7 622.6,562.9 623.2,560.7 623.8,552.1 624.3,545.0 624.9,538.7 625.5,538.9 626.1,535.8 626.6,531.5 627.2,531.5 627.8,517.8 628.4,517.3 628.9,506.8 629.5,508.0 630.1,509.6 630.6,497.9 631.2,501.9 631.8,497.4 632.4,491.1 632.9,489.7 633.5,493.2 634.1,481.5 634.7,480.8 635.2,480.9 635.8,479.4 636.4,474.2 637.0,482.4 637.5,462.1 638.1,482.8 638.7,470.7 639.2,467.5 639.8,456.0 640.4,455.3 641.0,450.6 641.5,457.8 642.1,440.2 642.7,439.5 643.3,455.6 643.8,438.9 644.4,449.7 645.0,438.7 645.6,429.4 646.1,430.3 646.7,436.2 647.3,429.7 647.9,416.8 648.4,420.1 649.0,414.4 649.6,427.1 650.1,411.1 650.7,410.9 651.3,415.8 651.9,399.0 652.4,405.8 653.0,397.9 653.6,404.3 654.2,396.6 654.7,393.6 655.3,395.5 655.9,392.0 656.5,388.6 657.0,389.0 657.6,394.1 658.2,382.2 658.7,382.9 659.3,378.6 659.9,383.1 660.5,366.8 661.0,368.5 661.6,363.6 662.2,358.6 662.8,362.0 663.3,367.9 663.9,372.0 664.5,355.3 665.1,358.7 665.6,353.4 666.2,348.5 666.8,355.8 667.3,358.7 667.9,348.7 668.5,352.2 669.1,352.8 669.6,343.7 670.2,345.9 670.8,339.6 671.4,347.7 671.9,340.1 672.5,339.3 673.1,336.4 673.7,338.3 674.2,329.0 674.8,340.3 675.4,327.3 675.9,321.8 676.5,327.0 677.1,325.0 677.7,328.6 678.2,320.9 678.8,318.3 679.4,318.5 680.0,315.9 680.5,313.4 681.1,313.9 681.7,324.9 682.3,319.2 682.8,311.6 683.4,296.5 684.0,301.7 684.5,306.9 685.1,306.5 685.7,306.5 686.3,298.9 686.8,302.8 687.4,299.2 688.0,303.4 688.6,299.3 689.1,301.2 689.7,298.5 690.3,294.5 690.9,283.9 691.4,287.5 692.0,282.0 692.6,289.9 693.1,284.2 693.7,288.3 694.3,284.6 694.9,283.4 695.4,291.2 696.0,280.1 696.6,286.7 697.2,275.7 697.7,281.7 698.3,286.5 698.9,283.5 699.5,280.9 700.0,266.4 700.6,281.6 701.2,276.1 701.8,271.8 702.3,273.5 702.9,272.4 703.5,266.8 704.0,274.8 704.6,259.6 705.2,261.3 705.8,267.4 706.3,260.6 706.9,267.0 707.5,269.5 708.1,274.0 708.6,269.7 709.2,261.7 709.8,262.8 710.4,254.8 710.9,253.5 711.5,257.7 712.1,261.7 712.6,250.3 713.2,261.6 713.8,274.1 714.4,261.7 714.9,256.2 715.5,255.2 716.1,253.8 716.7,251.5 717.2,271.0 717.8,243.9 718.4,250.3 719.0,254.0 719.5,264.8 720.1,250.2 720.7,259.2 721.2,264.8 721.8,247.2 722.4,249.4 723.0,250.7 723.5,257.2 724.1,246.8 724.7,247.2 725.3,247.7 725.8,245.3 726.4,259.7 727.0,243.0 727.6,255.2 728.1,244.0 728.7,248.2 729.3,249.0 729.8,236.4 730.4,244.7 731.0,243.5 731.6,240.2 732.1,231.7 732.7,260.5 733.3,241.1 733.9,243.5 734.4,237.8 735.0,243.2 735.6,243.3 736.2,239.8 736.7,241.0 737.3,249.3 737.9,240.4 738.4,230.1 739.0,243.6 739.6,256.0 740.2,240.1 740.7,247.5 741.3,233.5 741.9,246.2 742.5,240.9 743.0,234.6 743.6,236.3 744.2,240.6 744.8,236.4 745.3,226.5 745.9,238.9 746.5,239.8 747.0,241.8 747.6,238.0 748.2,233.7 748.8,234.2 749.3,235.5 749.9,243.0 750.5,235.0 751.1,237.7 751.6,253.2 752.2,227.3 752.8,231.4 753.4,235.8 753.9,225.4 754.5,230.0 755.1,249.5 755.6,226.5 756.2,217.6 756.8,231.3 757.4,225.1 757.9,241.3 758.5,238.7 759.1,240.7 759.7,222.3 760.2,223.3 760.8,245.0 761.4,225.0 762.0,243.8 762.5,234.5 763.1,231.4 763.7,230.0 764.3,225.6 764.8,226.8 765.4,221.0 766.0,230.0 766.5,232.0 767.1,226.8 767.7,217.1 768.3,219.2 768.8,218.9 769.4,218.0 770.0,226.5 770.6,214.3 771.1,224.4 771.7,234.4 772.3,230.6 772.9,212.8 773.4,231.4 774.0,228.4 774.6,226.8 775.1,211.1 775.7,230.8 776.3,223.2 776.9,217.1 777.4,233.6 778.0,227.4 778.6,209.4 779.2,222.4 779.7,219.8 780.3,217.8 780.9,220.9 781.5,224.7 782.0,220.9 782.6,214.1 783.2,235.4 783.7,225.0 784.3,217.4 784.9,212.0 785.5,222.2 786.0,221.3 786.6,221.6 787.2,221.3 787.8,211.0 788.3,222.6 788.9,211.5 789.5,218.6 790.1,214.8 790.6,222.8 791.2,215.8 791.8,219.0 792.3,219.8 792.9,211.3 793.5,214.4 794.1,212.6 794.6,213.4 795.2,217.1 795.8,210.7 796.4,218.2 796.9,216.0 797.5,223.0 798.1,219.6 798.7,214.3 799.2,213.0 799.8,218.8 800.4,211.4 800.9,221.7 801.5,214.8 802.1,215.6 802.7,214.3 803.2,207.8 803.8,219.2 804.4,211.1 805.0,219.1 805.5,214.0 806.1,216.3 806.7,210.2 807.3,212.4 807.8,217.2 808.4,206.3 809.0,210.5 809.5,223.0 810.1,210.3 810.7,211.1 811.3,205.2 811.8,215.1 812.4,209.4 813.0,215.8 813.6,210.3 814.1,206.6 814.7,212.3 815.3,225.9 815.9,204.6 816.4,206.1 817.0,223.5 817.6,208.5 818.2,211.3 818.7,202.2 819.3,221.7 819.9,207.7 820.4,217.1 821.0,214.2 821.6,202.5 822.2,223.0 822.7,207.6 823.3,207.4 823.9,203.7 824.5,218.2 825.0,205.9 825.6,208.2 826.2,205.2 826.8,214.9 827.3,209.7 827.9,215.4 828.5,203.0 829.0,204.9 829.6,205.6 830.2,204.2 830.8,208.5 831.3,203.1 831.9,209.1 832.5,209.1 833.1,217.7 833.6,205.4 834.2,202.4 834.8,210.6 835.4,208.7 835.9,205.3 836.5,202.4 837.1,206.5 837.6,197.3 838.2,218.8 838.8,209.2 839.4,206.1 839.9,206.5 840.5,210.2 841.1,198.8 841.7,208.4 842.2,211.7 842.8,201.6 843.4,203.3 844.0,209.3 844.5,198.3 845.1,202.0 845.7,203.0 846.2,210.6 846.8,198.0 847.4,206.2 848.0,203.6 848.5,203.6 849.1,210.6 849.7,207.0 850.3,202.8 850.8,207.5 851.4,209.8 852.0,197.6 852.6,207.5 853.1,201.4 853.7,214.7 854.3,203.3 854.8,200.2 855.4,203.8 856.0,211.2 856.6,206.8 857.1,196.7 857.7,218.6 858.3,198.8 858.9,207.9 859.4,202.8 860.0,198.6 860.6,198.1 861.2,209.1 861.7,204.9 862.3,201.0 862.9,208.2 863.4,205.1 864.0,199.3 864.6,204.5 865.2,208.7 865.7,200.9 866.3,221.4 866.9,194.4 867.5,223.7 868.0,200.6 868.6,194.0 869.2,212.4 869.8,203.7 870.3,202.7 870.9,204.0 871.5,204.6 872.1,194.4 872.6,216.5 873.2,199.6 873.8,201.4 874.3,207.5 874.9,201.6 875.5,198.5 876.1,208.4 876.6,197.0 877.2,206.4 877.8,203.1 878.4,199.5 878.9,202.1 879.5,219.0 880.1,196.0 880.7,207.3 881.2,190.7 881.8,221.2 882.4,198.9 882.9,209.3 883.5,199.0 884.1,217.5 884.7,211.3 885.2,192.9 885.8,208.9 886.4,199.8 887.0,197.0 887.5,203.2 888.1,209.5 888.7,205.4 889.3,200.6 889.8,210.2 890.4,194.7 891.0,200.1 891.5,203.9 892.1,195.1 892.7,212.7 893.3,198.7 893.8,201.7 894.4,204.2 895.0,196.4 895.6,203.8 896.1,193.8 896.7,203.3 897.3,204.8 897.9,215.9 898.4,195.6 899.0,210.9 899.6,194.8 900.1,192.5 900.7,212.5 901.3,199.4 901.9,200.7 902.4,211.3 903.0,194.4 903.6,201.7 904.2,210.4 904.7,203.0 905.3,195.0 905.9,202.9 906.5,203.9 907.0,203.7 907.6,199.7 908.2,193.1 908.7,202.7 909.3,212.8 909.9,192.7 910.5,200.3 911.0,204.7 911.6,199.7 912.2,197.9 912.8,203.1 913.3,198.8 913.9,198.3 914.5,201.5 915.1,196.1 915.6,196.5 916.2,198.7 916.8,202.3 917.3,199.9 917.9,198.1 918.5,209.7 919.1,203.0 919.6,197.8 920.2,206.9 920.8,208.1 921.4,196.8 921.9,217.0 922.5,208.4 923.1,206.4 923.7,198.9 924.2,198.3 924.8,203.6 925.4,200.6 925.9,188.9 926.5,216.4 927.1,221.7 927.7,215.6 928.2,197.1 928.8,194.4 929.4,205.7 930.0,193.9 930.5,206.2 931.1,197.6 931.7,200.3 932.3,196.5 932.8,196.4 933.4,206.1 934.0,195.0 934.6,208.7 935.1,205.3 935.7,195.7 936.3,200.0 936.8,196.5 937.4,203.6 938.0,204.2 938.6,202.0 939.1,203.6 939.7,194.8 940.3,204.1 940.9,195.0 941.4,194.9 942.0,197.0 942.6,192.1 943.2,203.8 943.7,192.0 944.3,204.7 944.9,218.2 945.4,191.0 946.0,190.6 946.6,211.5 947.2,193.2 947.7,200.0 948.3,197.8 948.9,201.9 949.5,216.4 950.0,194.6 950.6,200.2 951.2,198.0 951.8,191.8 952.3,203.1 952.9,196.5 953.5,207.8 954.0,196.7 954.6,204.0 955.2,199.2 955.8,217.3 956.3,193.7 956.9,205.7 957.5,194.7 958.1,209.0 958.6,193.5 959.2,199.4 959.8,192.9 960.4,209.1 960.9,213.9 961.5,204.2 962.1,193.1 962.6,211.6 963.2,194.3 963.8,192.5 964.4,196.3 964.9,214.4 965.5,196.9 966.1,194.6 966.7,204.8 967.2,200.9 967.8,196.0 968.4,203.9 969.0,193.0 969.5,207.1 970.1,195.8 970.7,197.7 971.2,200.4 971.8,207.3 972.4,194.9 973.0,202.4 973.5,197.9 974.1,194.7 974.7,190.1 975.3,199.9 975.8,193.5 976.4,202.4 977.0,221.5 977.6,190.2 978.1,200.4 978.7,195.4 979.3,202.4 979.8,197.2 980.4,203.6 981.0,193.6 981.6,207.4 982.1,199.0 982.7,197.9 983.3,192.2 983.9,197.4 984.4,198.8 985.0,204.2 985.6,196.3 986.2,201.7 986.7,204.3 987.3,192.5 987.9,210.1 988.5,223.8 989.0,191.5 989.6,230.1 990.2,193.5 990.7,203.4 991.3,227.6 991.9,204.1 992.5,196.0 993.0,212.3 993.6,193.5 994.2,200.7 994.8,199.2 995.3,200.3 995.9,198.6 996.5,211.6 997.1,190.5 997.6,208.4 998.2,199.2 998.8,216.0 999.3,191.9 999.9,205.7 1000.5,200.6 1001.1,189.0 1001.6,213.9 1002.2,205.1 1002.8,209.7 1003.4,186.0 1003.9,200.4 1004.5,210.8 1005.1,192.6 1005.7,196.9 1006.2,207.7 1006.8,198.6 1007.4,206.1 1007.9,204.0 1008.5,200.6 1009.1,190.8 1009.7,201.1 1010.2,200.1 1010.8,201.4 1011.4,203.7 1012.0,205.5 1012.5,189.2 1013.1,200.2 1013.7,197.1 1014.3,228.5 1014.8,192.9 1015.4,207.0 1016.0,203.8 1016.5,197.1 1017.1,198.7 1017.7,197.2 1018.3,199.2 1018.8,190.6 1019.4,203.3 1020.0,205.8 1020.6,196.4 1021.1,204.7 1021.7,201.8 1022.3,204.1 1022.9,197.2 1023.4,201.6 1024.0,207.3 1024.6,192.6 1025.1,191.8 1025.7,212.3 1026.3,200.0 1026.9,207.5 1027.4,189.0 1028.0,190.6 1028.6,202.7 1029.2,192.8 1029.7,190.3 1030.3,215.9 1030.9,194.0 1031.5,191.0 1032.0,191.4 1032.6,202.4 1033.2,201.2 1033.7,199.7 1034.3,206.3 1034.9,196.6 1035.5,201.2 1036.0,189.3 1036.6,217.3 1037.2,192.8 1037.8,211.4 1038.3,187.1 1038.9,200.1 1039.5,210.8 1040.1,194.4 1040.6,204.1 1041.2,191.9 1041.8,216.5 1042.3,193.6 1042.9,227.8 1043.5,196.2 1044.1,190.2 1044.6,222.4 1045.2,187.7 1045.8,197.8 1046.4,196.2 1046.9,190.1 1047.5,214.6 1048.1,195.6 1048.7,186.8 1049.2,197.4 1049.8,188.8 1050.4,199.2 1051.0,202.9 1051.5,192.4 1052.1,202.0 1052.7,195.7 1053.2,203.5 1053.8,197.2 1054.4,199.0 1055.0,197.9 1055.5,189.7 1056.1,197.6 1056.7,204.8 1057.3,195.0 1057.8,213.6 1058.4,200.8 1059.0,188.1 1059.6,206.6 1060.1,207.5 1060.7,192.6 1061.3,210.2 1061.8,192.9 1062.4,214.5 1063.0,194.3 1063.6,192.9 1064.1,188.6 1064.7,206.3 1065.3,192.2 1065.9,202.8 1066.4,189.1 1067.0,205.9 1067.6,194.7 1068.2,201.1 1068.7,203.7 1069.3,194.3 1069.9,200.3 1070.4,209.8 1071.0,191.0 1071.6,207.1 1072.2,200.5 1072.7,214.7 1073.3,192.5 1073.9,208.6 1074.5,189.3 1075.0,218.6 1075.6,245.4 1076.2,198.3 1076.8,201.8 1077.3,188.2 1077.9,201.2 1078.5,199.6 1079.0,194.5 1079.6,192.9 1080.2,207.9 1080.8,198.0 1081.3,195.6 1081.9,197.7 1082.5,209.7 1083.1,206.0 1083.6,200.7 1084.2,198.0 1084.8,188.8 1085.4,194.8 1085.9,196.2 1086.5,193.5 1087.1,210.5 1087.6,191.6 1088.2,210.3 1088.8,196.0 1089.4,199.0 1089.9,199.5 1090.5,191.9 1091.1,201.7 1091.7,205.1 1092.2,200.0 1092.8,199.8 1093.4,199.2 1094.0,196.3 1094.5,203.6 1095.1,223.1 1095.7,192.1 1096.2,186.0 1096.8,191.1 1097.4,197.4 1098.0,198.5 1098.5,203.3 1099.1,195.5 1099.7,201.6 1100.3,203.2 1100.8,188.0 1101.4,200.6 1102.0,202.4 1102.6,195.2 1103.1,194.2 1103.7,202.6 1104.3,205.8 1104.9,191.2 1105.4,186.4 1106.0,198.9 1106.6,199.6 1107.1,201.6 1107.7,193.0 1108.3,194.7 1108.9,208.8 1109.4,203.6 1110.0,197.7 1110.6,193.2 1111.2,188.3 1111.7,208.4 1112.3,193.0 1112.9,198.1 1113.5,196.8 1114.0,193.8 1114.6,199.3 1115.2,189.4 1115.7,196.9 1116.3,198.6 1116.9,197.1 1117.5,186.0 1118.0,224.5 1118.6,186.4 1119.2,210.8 1119.8,189.5 1120.3,213.8 1120.9,188.5 1121.5,216.3 1122.1,233.7 1122.6,209.0 1123.2,193.8 1123.8,204.4 1124.3,197.8 1124.9,198.2 1125.5,191.4 1126.1,209.1 1126.6,186.0 1127.2,195.1 1127.8,191.3 1128.4,218.8 1128.9,189.9 1129.5,195.2 1130.1,191.7 1130.7,191.9 1131.2,194.0 1131.8,196.0 1132.4,188.1 1132.9,203.7 1133.5,197.9 1134.1,210.3 1134.7,197.0 1135.2,196.9 1135.8,189.4 1136.4,202.7 1137.0,203.2 1137.5,209.4 1138.1,197.6 1138.7,202.5 1139.3,198.8 1139.8,210.1 1140.4,203.6 1141.0,196.0 1141.5,188.4 1142.1,218.1 1142.7,191.3 1143.3,190.1 1143.8,187.4 1144.4,191.7 1145.0,203.7 1145.6,197.1 1146.1,196.6 1146.7,204.3 1147.3,192.7 1147.9,200.3 1148.4,191.1 1149.0,195.0 1149.6,186.9 1150.1,197.1 1150.7,206.2 1151.3,192.4 1151.9,198.2 1152.4,199.3 1153.0,218.1 1153.6,198.8 1154.2,188.3 1154.7,198.0 1155.3,205.9 1155.9,194.4 1156.5,197.0 1157.0,207.6 1157.6,203.1 1158.2,196.7 1158.8,223.4 1159.3,191.6 1159.9,187.3 1160.5,205.5 1161.0,195.5 1161.6,218.0 1162.2,193.6 1162.8,194.4 1163.3,202.3 1163.9,188.0 1164.5,196.4 1165.1,199.9 1165.6,188.7 1166.2,190.4 1166.8,196.2 1167.4,199.6 1167.9,204.5 1168.5,237.4 1169.1,196.2 1169.6,256.4 1170.2,201.8 1170.8,194.3 1171.4,203.9 1171.9,198.4 1172.5,212.2 1173.1,196.0 1173.7,195.2 1174.2,191.6 1174.8,204.0 1175.4,204.9 1176.0,203.4 1176.5,188.5 1177.1,188.1 1177.7,190.3 1178.2,196.0 1178.8,199.1 1179.4,191.7 1180.0,194.4 1180.5,197.6 1181.1,199.9 1181.7,187.0 1182.3,201.5 1182.8,195.6 1183.4,196.1 1184.0,191.7 1184.6,186.0 1185.1,207.0 1185.7,188.3 1186.3,197.8 1186.8,202.1 1187.4,199.6 1188.0,200.2 1188.6,198.3 1189.1,188.0 1189.7,195.1 1190.3,211.9 1190.9,190.3 1191.4,234.0 1192.0,188.8 1192.6,202.8 1193.2,194.5 1193.7,199.8 1194.3,186.0 1194.9,201.8 1195.4,217.2 1196.0,188.8 1196.6,189.1 1197.2,208.5 1197.7,198.5 1198.3,201.6 1198.9,188.4 1199.5,204.4 1200.0,204.4 1200.6,191.3 1201.2,197.0 1201.8,199.0 1202.3,204.2 1202.9,196.4 1203.5,198.5 1204.0,217.7 1204.6,208.5 1205.2,186.0 1205.8,227.6 1206.3,189.6 1206.9,207.5 1207.5,188.4 1208.1,201.1 1208.6,189.0 1209.2,208.0 1209.8,194.5 1210.4,200.4 1210.9,199.2 1211.5,199.4 1212.1,206.9 1212.6,192.0 1213.2,191.2 1213.8,191.1 1214.4,236.9 1214.9,196.9 1215.5,259.4 1216.1,201.6 1216.7,187.0 1217.2,218.6 1217.8,199.0 1218.4,190.5 1219.0,199.4 1219.5,196.9 1220.1,187.5 1220.7,215.0 1221.3,196.4 1221.8,190.8 1222.4,218.3 1223.0,188.3 1223.5,194.8 1224.1,186.0 1224.7,204.2 1225.3,202.1 1225.8,192.1 1226.4,197.6 1227.0,186.1 1227.6,209.0 1228.1,195.8 1228.7,201.4 1229.3,201.8 1229.9,201.8 1230.4,192.8 1231.0,203.9 1231.6,209.7 1232.1,190.1 1232.7,201.3 1233.3,188.3 1233.9,206.3 1234.4,209.0 1235.0,189.0 1235.6,189.3 1236.2,197.6 1236.7,202.4 1237.3,237.3 1237.9,189.9 1238.5,210.4 1239.0,186.0 1239.6,203.9 1240.2,186.0 1240.7,188.0 1241.3,214.9 1241.9,203.9 1242.5,188.8 1243.0,232.8 1243.6,192.1 1244.2,202.0 1244.8,195.6 1245.3,190.9 1245.9,217.4 1246.5,195.5 1247.1,198.0 1247.6,194.2 1248.2,192.6 1248.8,230.1 1249.3,189.8 1249.9,194.3 1250.5,207.2 1251.1,186.0 1251.6,208.0 1252.2,231.6 1252.8,187.3 1253.4,205.4 1253.9,189.1 1254.5,201.1 1255.1,207.6 1255.7,186.0 1256.2,190.9 1256.8,217.3 1257.4,193.5 1257.9,201.1 1258.5,200.9 1259.1,186.0 1259.7,187.4 1260.2,187.0 1260.8,213.3 1261.4,186.0 1262.0,186.8 1262.5,198.8 1263.1,196.5 1263.7,202.8 1264.3,186.0 1264.8,227.8 1265.4,186.0 1266.0,205.7 1266.5,196.9 1267.1,188.2 1267.7,231.4 1268.3,199.2 1268.8,209.8 1269.4,212.9 1270.0,210.0 1270.6,198.5 1271.1,201.9 1271.7,192.2 1272.3,186.7 1272.9,213.5 1273.4,192.3 1274.0,195.3 1274.6,195.1 1275.2,205.6 1275.7,188.3 1276.3,233.7 1276.9,191.4 1277.4,189.2 1278.0,203.8 1278.6,213.0 1279.2,186.8 1279.7,209.8 1280.3,191.4 1280.9,201.7 1281.5,190.8 1282.0,199.2 1282.6,204.1 1283.2,204.3 1283.8,186.0 1284.3,211.5 1284.9,190.8 1285.5,192.5 1286.0,199.1 1286.6,215.9 1287.2,190.8 1287.8,232.3 1288.3,207.7 1288.9,193.5 1289.5,208.8 1290.1,193.1 1290.6,213.8 1291.2,187.7 1291.8,194.6 1292.4,210.1 1292.9,210.8 1293.5,191.2 1294.1,210.2 1294.6,195.3 1295.2,194.3 1295.8,187.7 1296.4,238.8 1296.9,202.2 1297.5,186.0 1298.1,222.7 1298.7,188.8 1299.2,189.3 1299.8,195.8 1300.4,208.3 1301.0,189.3 1301.5,197.3 1302.1,193.8 1302.7,189.9 1303.2,206.2 1303.8,186.0 1304.4,193.0 1305.0,200.9 1305.5,188.8 1306.1,205.9 1306.7,192.5 1307.3,203.4 1307.8,190.4 1308.4,206.1 1309.0,192.4 1309.6,204.3 1310.1,190.1 1310.7,186.0 1311.3,208.7 1311.8,198.7 1312.4,191.3 1313.0,213.1 1313.6,198.5 1314.1,212.7 1314.7,187.3 1315.3,194.7 1315.9,206.2 1316.4,212.4 1317.0,186.0 1317.6,223.0 1318.2,197.3 1318.7,190.8 1319.3,214.3 1319.9,202.2 1320.4,203.6 1321.0,191.6 1321.6,207.6 1322.2,186.0 1322.7,215.0 1323.3,186.0 1323.9,202.3 1324.5,213.4 1325.0,191.5 1325.6,201.4 1326.2,193.6 1326.8,243.4 1327.3,186.0 1327.9,199.8 1328.5,197.0 1329.0,245.4 1329.6,186.0 1330.2,199.4 1330.8,209.3 1331.3,186.0 1331.9,225.0 1332.5,195.1 1333.1,217.7 1333.6,211.8 1334.2,200.6 1334.8,209.9 1335.4,187.7 1335.9,191.0 1336.5,223.6 1337.1,201.2 1337.7,197.2 1338.2,206.2 1338.8,203.1 1339.4,223.4 1339.9,188.6 1340.5,194.9 1341.1,210.9 1341.7,197.9 1342.2,203.6 1342.8,226.2 1343.4,186.0 1344.0,216.1 1344.5,214.1 1345.1,211.4 1345.7,186.0 1346.3,199.7 1346.8,219.2 1347.4,192.8 1348.0,204.3 1348.5,196.9 1349.1,219.5 1349.7,196.6 1350.3,232.0 1350.8,204.0 1351.4,219.0 1352.0,194.4 1352.6,186.0 1353.1,186.0 1353.7,223.8 1354.3,186.0 1354.9,213.8 1355.4,187.8 1356.0,205.1 1356.6,190.1 1357.1,186.0 1357.7,244.2 1358.3,191.7 1358.9,197.4 1359.4,225.9 1360.0,197.8 1360.6,209.9 1361.2,187.3 1361.7,201.8 1362.3,200.2 1362.9,191.1 1363.5,214.2 1364.0,198.3 1364.6,193.9 1365.2,193.2 1365.7,214.0 1366.3,192.9 1366.9,202.5 1367.5,261.3 1368.0,192.6 1368.6,186.0 1369.2,225.3 1369.8,203.5 1370.3,188.4 1370.9,190.7 1371.5,216.2 1372.1,186.6 1372.6,227.1 1373.2,193.7 1373.8,216.3 1374.3,186.9 1374.9,202.2 1375.5,198.8 1376.1,186.0 1376.6,196.4 1377.2,226.2 1377.8,186.0 1378.4,189.3 1378.9,207.3 1379.5,214.3 1380.1,192.1 1380.7,307.3 1381.2,197.1 1381.8,205.2 1382.4,186.0 1382.9,213.5 1383.5,200.0 1384.1,208.4 1384.7,208.0 1385.2,201.8 1385.8,226.7 1386.4,190.8 1387.0,196.9 1387.5,222.8 1388.1,193.4 1388.7,190.7 1389.3,195.7 1389.8,199.3 1390.4,187.2 1391.0,226.5 1391.6,196.6 1392.1,211.1 1392.7,186.0 1393.3,203.0 1393.8,194.5 1394.4,208.4 1395.0,198.1 1395.6,206.2 1396.1,202.4 1396.7,187.3 1397.3,208.3 1397.9,197.9 1398.4,198.6 1399.0,203.1 1399.6,186.0 1400.2,201.1 1400.7,198.0 1401.3,194.0 1401.9,191.6 1402.4,246.5 1403.0,206.5 1403.6,220.4 1404.2,186.0 1404.7,186.0 1405.3,227.6 1405.9,189.0 1406.5,188.8 1407.0,214.2 1407.6,195.9 1408.2,186.0 1408.8,211.9 1409.3,186.0 1409.9,217.4 1410.5,186.0 1411.0,186.0 1411.6,220.4 1412.2,236.1 1412.8,189.8 1413.3,186.0 1413.9,214.5 1414.5,198.9 1415.1,198.1 1415.6,195.1 1416.2,188.3 1416.8,197.7 1417.4,221.1 1417.9,186.0 1418.5,201.2 1419.1,194.2 1419.6,214.1 1420.2,195.4 1420.8,192.1 1421.4,232.6 1421.9,189.0 1422.5,275.7 1423.1,186.2 1423.7,186.0 1424.2,214.3 1424.8,191.5 1425.4,203.7 1426.0,186.0 1426.5,250.1 1427.1,189.7 1427.7,207.4 1428.2,186.0 1428.8,206.1 1429.4,198.0 1430.0,210.9 1430.5,199.7 1431.1,186.0 1431.7,215.5 1432.3,194.8 1432.8,192.6 1433.4,204.5 1434.0,203.4 1434.6,234.5 1435.1,186.0 1435.7,191.8 1436.3,203.3 1436.8,207.0 1437.4,186.0 1438.0,200.8 1438.6,186.4 1439.1,208.1 1439.7,196.2 1440.3,207.8 1440.9,214.1 1441.4,186.0 1442.0,208.8 1442.6,186.0 1443.2,216.0 1443.7,225.1 1444.3,186.0 1444.9,246.0 1445.5,186.0 1446.0,231.0 1446.6,234.0 1447.2,186.0 1447.7,206.8 1448.3,216.1 1448.9,186.0 1449.5,203.8 1450.0,191.6 1450.6,193.8 1451.2,201.1 1451.8,207.4 1452.3,234.4 1452.9,193.1 1453.5,196.8 1454.1,209.9 1454.6,196.4 1455.2,199.3 1455.8,186.0 1456.3,205.7 1456.9,191.1 1457.5,237.1 1458.1,194.8 1458.6,216.0 1459.2,186.0 1459.8,186.0 1460.4,195.0 1460.9,238.5 1461.5,186.0 1462.1,216.1 1462.7,216.1 1463.2,186.7 1463.8,217.1 1464.4,186.0 1464.9,194.7 1465.5,200.5 1466.1,193.4 1466.7,244.2 1467.2,203.1 1467.8,214.1 1468.4,205.9 1469.0,202.7 1469.5,186.0 1470.1,240.7 1470.7,195.7 1471.3,186.0 1471.8,205.8" stroke="#008000" stroke-dasharray="16.6 16.6"/>
</g>
<g stroke="#000" stroke-width="4.3" fill="none">
<path d="M569.4 899.0h16.5"/>
<path d="M569.4 768.2h16.5"/>
<path d="M569.4 637.4h16.5"/>
<path d="M569.4 506.6h16.5"/>
<path d="M569.4 375.8h16.5"/>
<path d="M569.4 245.0h16.5"/>
<path d="M1514.5 156.7h-16.5"/>
<path d="M1514.5 271.4h-16.5"/>
<path d="M1514.5 386.2h-16.5"/>
<path d="M1514.5 500.9h-16.5"/>
<path d="M1514.5 615.6h-16.5"/>
<path d="M1514.5 730.4h-16.5"/>
<path d="M1514.5 845.1h-16.5"/>
<path d="M612.3 931.3v-16.5"/>
<path d="M841.7 931.3v-16.5"/>
<path d="M1071.0 931.3v-16.5"/>
<path d="M1300.4 931.3v-16.5"/>
</g>
<rect x="569.4" y="127.7" width="945.1" height="803.6" fill="none" stroke="#000" stroke-width="4.7"/>
<g fill="none" stroke-width="4.1">
<path d="M581 1230.9H633.5" stroke="#ff0000" stroke-linecap="square"/>
<path d="M581 1305.7H633.5" stroke="#ffa500" stroke-dasharray="16.2 17.3"/>
<path d="M987.8 1230.9H1040.4" stroke="#0000ff" stroke-linecap="square"/>
<path d="M987.8 1305.7H1040.4" stroke="#008000" stroke-dasharray="16.2 17.3"/>
</g>
<rect x="2199.00" y="127.50" width="315.10" height="267.80" fill="#083a7a"/>
<rect x="2513.50" y="127.50" width="312.70" height="267.80" fill="#f5fafe"/>
<rect x="2825.60" y="127.50" width="319.20" height="267.80" fill="#f7fbff"/>
<rect x="2199.00" y="394.70" width="315.10" height="266.10" fill="#f5fafe"/>
<rect x="2513.50" y="394.70" width="312.70" height="266.10" fill="#084285"/>
<rect x="2825.60" y="394.70" width="319.20" height="266.10" fill="#f7fbff"/>
<rect x="2199.00" y="660.20" width="315.10" height="271.30" fill="#f7fbff"/>
<rect x="2513.50" y="660.20" width="312.70" height="271.30" fill="#f7fbff"/>
<rect x="2825.60" y="660.20" width="319.20" height="271.30" fill="#08306b"/>
<g fill="#809dc8">
<rect x="2511.7" y="127.8" width="4.2" height="534.6"/>
<rect x="2823.8" y="393.1" width="4.2" height="538.1"/>
<rect x="2199.3" y="393.1" width="628.7" height="3.7"/>
<rect x="2511.7" y="658.6" width="632.8" height="3.7"/>
</g>
<g stroke="#000" stroke-width="4.3" fill="none">
<path d="M2199.3 261.7h16.5"/>
<path d="M2199.3 529.5h16.5"/>
<path d="M2199.3 797.3h16.5"/>
<path d="M2356.8 931.2v-16.5"/>
<path d="M2671.9 931.2v-16.5"/>
<path d="M2987.0 931.2v-16.5"/>
</g>
<rect x="2199.3" y="127.8" width="945.2" height="803.4" fill="none" stroke="#000" stroke-width="4.7"/>
<rect x="3199.1" y="127.8" width="46.9" height="803.4" fill="url(#blues)"/>
<g stroke="#000" stroke-width="4.3" fill="none">
<path d="M3246.0 779.9h-15.5"/>
<path d="M3246.0 622.4h-15.5"/>
<path d="M3246.0 464.8h-15.5"/>
<path d="M3246.0 307.3h-15.5"/>
<path d="M3246.0 149.7h-15.5"/>
</g>
<rect x="3199.1" y="127.8" width="46.9" height="803.4" fill="none" stroke="#000" stroke-width="4.7"/>
<g fill="#000">
<text transform="translate(415.09 55.70) scale(1.0381 1)" font-size="69.5" style="word-spacing:4px">SEED training and testing loss (Accuracy)</text>
<text transform="translate(2198.08 55.70) scale(1.0243 1)" font-size="69.5" style="word-spacing:4px">Confusion matrix (Acc=0.976 4)</text>
<text transform="translate(436.66 916.80) scale(1.0326 1)" font-size="66.3">0.0</text>
<text transform="translate(436.63 786.34) scale(1.0464 1)" font-size="66.3">0.2</text>
<text transform="translate(436.69 655.88) scale(1.0192 1)" font-size="66.3">0.4</text>
<text transform="translate(436.69 525.42) scale(1.0192 1)" font-size="66.3">0.6</text>
<text transform="translate(436.66 394.96) scale(1.0326 1)" font-size="66.3">0.8</text>
<text transform="translate(437.61 264.50) scale(1.0208 1)" font-size="66.3">1.0</text>
<text transform="translate(1562.46 176.30) scale(1.0301 1)" font-size="66.3">1.0</text>
<text transform="translate(1562.06 291.00) scale(1.0352 1)" font-size="66.3">0.9</text>
<text transform="translate(1562.06 405.80) scale(1.0352 1)" font-size="66.3">0.8</text>
<text transform="translate(1562.08 520.50) scale(1.0217 1)" font-size="66.3">0.7</text>
<text transform="translate(1562.08 635.20) scale(1.0217 1)" font-size="66.3">0.6</text>
<text transform="translate(1562.06 750.00) scale(1.0352 1)" font-size="66.3">0.5</text>
<text transform="translate(1562.08 864.70) scale(1.0217 1)" font-size="66.3">0.4</text>
<text transform="translate(595.48 1025.50) scale(1.0239 1)" font-size="66.3">0</text>
<text transform="translate(792.86 1025.50) scale(1.0016 1)" font-size="66.3">400</text>
<text transform="translate(1021.51 1025.50) scale(1.0094 1)" font-size="66.3">800</text>
<text transform="translate(1223.89 1025.50) scale(0.9864 1)" font-size="66.3" style="word-spacing:7px">1 200</text>
<text transform="translate(952.00 1128.70) scale(1.0144 1)" font-size="69.5">Epoch</text>
<text transform="translate(386.50 591.53) rotate(-90) scale(0.9521 1)" font-size="69.5">Loss</text>
<text transform="translate(1741.00 662.90) rotate(-90) scale(0.9980 1)" font-size="69.5">Accuracy</text>
<text transform="translate(657.87 1250.60) scale(1.0432 1)" font-size="69.5" style="word-spacing:4px">Train loss</text>
<text transform="translate(657.86 1325.30) scale(1.0461 1)" font-size="69.5" style="word-spacing:4px">Test loss</text>
<text transform="translate(1064.86 1250.40) scale(1.0474 1)" font-size="69.5" style="word-spacing:4px">Train accuracy</text>
<text transform="translate(1064.86 1324.90) scale(1.0519 1)" font-size="69.5" style="word-spacing:4px">Test accuracy</text>
<text transform="translate(2118.72 283.90) scale(1.0032 1)" font-size="66.3">0</text>
<text transform="translate(2120.70 551.10) scale(0.8889 1)" font-size="66.3">1</text>
<text transform="translate(2119.56 816.90) scale(0.9832 1)" font-size="66.3">2</text>
<text transform="translate(2339.69 1025.80) scale(1.0205 1)" font-size="66.3">0</text>
<text transform="translate(2656.42 1025.80) scale(0.8849 1)" font-size="66.3">1</text>
<text transform="translate(2970.66 1025.80) scale(0.9868 1)" font-size="66.3">2</text>
<text transform="translate(2453.67 1135.70) scale(1.0413 1)" font-size="69.5" style="word-spacing:4px">Predicted label</text>
<text transform="translate(2056.00 678.33) rotate(-90) scale(1.0439 1)" font-size="69.5" style="word-spacing:4px">True label</text>
<text transform="translate(2281.12 283.90) scale(0.9761 1)" font-size="66.3" fill="#fff" style="word-spacing:7px">4 931</text>
<text transform="translate(2638.33 283.90) scale(0.9975 1)" font-size="66.3" style="word-spacing:7px">99</text>
<text transform="translate(2954.43 283.90) scale(0.9975 1)" font-size="66.3" style="word-spacing:7px">41</text>
<text transform="translate(2323.27 551.10) scale(0.9975 1)" font-size="66.3" style="word-spacing:7px">89</text>
<text transform="translate(2596.20 551.10) scale(0.9695 1)" font-size="66.3" fill="#fff" style="word-spacing:7px">4 799</text>
<text transform="translate(2954.45 551.10) scale(0.9811 1)" font-size="66.3" style="word-spacing:7px">45</text>
<text transform="translate(2324.32 816.90) scale(0.9811 1)" font-size="66.3" style="word-spacing:7px">40</text>
<text transform="translate(2639.38 816.90) scale(0.9811 1)" font-size="66.3" style="word-spacing:7px">45</text>
<text transform="translate(2909.21 816.90) scale(0.9828 1)" font-size="66.3" fill="#fff" style="word-spacing:7px">5 139</text>
<text transform="translate(3293.55 799.14) scale(0.9945 1)" font-size="66.3" style="word-spacing:7px">1 000</text>
<text transform="translate(3293.94 641.58) scale(0.9919 1)" font-size="66.3" style="word-spacing:7px">2 000</text>
<text transform="translate(3292.90 484.02) scale(0.9987 1)" font-size="66.3" style="word-spacing:7px">3 000</text>
<text transform="translate(3294.98 326.46) scale(0.9852 1)" font-size="66.3" style="word-spacing:7px">4 000</text>
<text transform="translate(3292.90 168.90) scale(0.9987 1)" font-size="66.3" style="word-spacing:7px">5 000</text>
</g>
</svg></body></html>
